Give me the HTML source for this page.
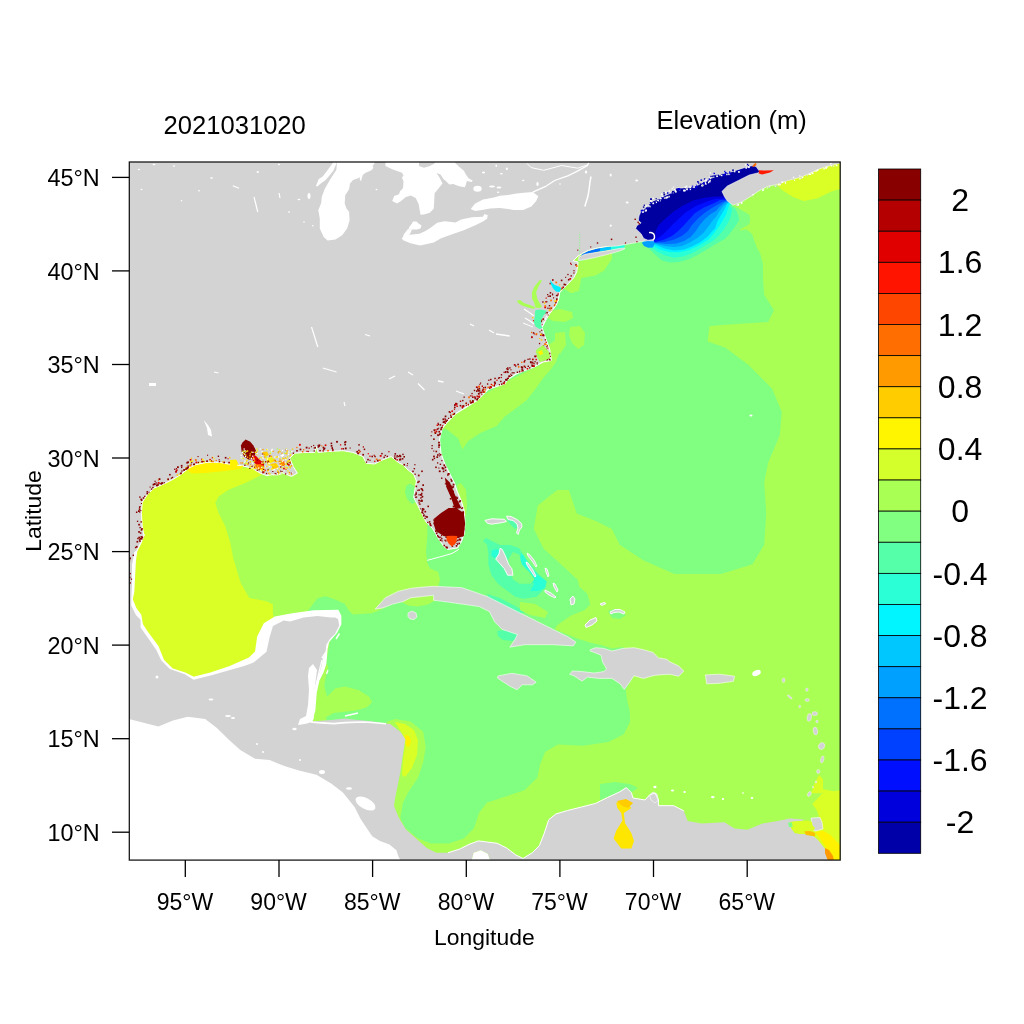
<!DOCTYPE html>
<html><head><meta charset="utf-8"><style>
html,body{margin:0;padding:0;background:#fff;}
svg{display:block;will-change:transform;}
text{font-family:"Liberation Sans",sans-serif;fill:#000;}
</style></head><body>
<svg width="1024" height="1024" viewBox="0 0 1024 1024">
<rect width="1024" height="1024" fill="#fff"/>
<defs><clipPath id="pc"><rect x="129.3" y="162" width="710.9" height="698.1"/></clipPath></defs>
<g clip-path="url(#pc)">
<rect x="129" y="161" width="712" height="700" fill="#aaff55"/>
<polygon fill="#d9ff26" points="129.0,470.0 255.0,468.0 261.8,474.8 245.2,483.1 228.6,489.7 218.6,496.4 215.3,503.0 218.6,513.0 225.3,526.2 230.3,542.8 233.6,560.0 234.3,561.5 240.7,583.0 249.3,598.0 266.5,601.2 272.9,604.5 272.9,613.0 275.0,625.0 270.0,660.0 200.0,690.0 129.0,700.0"/>
<polygon fill="#fff200" points="188.0,468.0 195.0,464.5 210.0,462.0 230.0,463.0 245.0,466.0 240.0,469.0 225.0,471.0 205.0,473.0 192.0,473.5 188.0,471.0"/>
<polygon fill="#80ff80" points="612.0,250.0 612.0,240.0 650.0,228.0 700.0,200.0 731.0,204.0 735.5,206.7 740.4,209.6 749.2,214.5 750.2,219.4 749.2,224.3 740.4,229.2 739.4,230.5 746.7,229.5 752.1,234.1 754.1,240.0 757.0,248.0 760.0,253.0 763.0,264.0 763.0,278.0 764.2,294.7 774.0,310.3 768.1,322.0 736.9,324.0 709.5,325.9 707.6,341.6 725.2,347.4 748.6,365.0 772.0,388.4 781.8,411.9 779.8,435.3 768.1,462.7 764.2,482.2 766.2,513.4 764.2,544.7 752.5,564.2 721.2,574.0 674.4,574.0 643.1,560.3 619.7,544.7 611.9,529.0 596.3,521.3 576.7,513.4 568.9,490.0 557.2,490.0 537.7,505.6 533.8,529.0 543.5,548.6 565.0,568.0 577.9,580.0 579.2,586.8 587.4,593.7 590.2,604.6 584.7,610.1 571.0,615.5 557.3,625.1 554.6,629.2 564.2,633.3 577.9,638.8 591.5,642.9 601.1,644.9 612.0,648.4 623.0,647.0 635.0,660.0 633.9,675.7 625.7,689.4 627.1,700.3 629.8,711.3 630.1,721.6 623.8,734.3 608.5,741.9 583.1,745.7 557.8,744.4 545.1,752.0 540.0,764.7 537.4,777.4 524.7,790.1 501.9,797.8 486.7,802.8 479.0,813.0 474.0,828.2 463.8,838.4 448.6,843.5 430.8,843.5 418.1,838.4 405.4,828.2 400.3,818.1 402.9,802.8 407.9,792.7 418.1,777.4 423.2,762.2 425.7,747.0 423.2,731.7 410.5,721.6 395.2,719.0 387.6,721.6 380.0,730.0 330.0,730.0 320.0,700.0 330.0,640.0 300.0,625.0 307.8,611.0 317.4,598.2 325.6,596.2 335.1,599.6 344.7,603.7 348.8,610.5 352.9,614.6 372.1,613.3 378.9,610.5 400.0,600.0 438.0,587.0 440.1,579.5 438.1,571.7 430.0,568.5 427.3,563.0 426.0,552.1 427.3,535.7 427.3,524.8 426.0,522.0 445.0,510.0 450.0,500.0 445.0,480.0 435.0,460.0 432.0,440.0 440.0,420.0 480.0,390.0 545.0,358.0 540.0,330.0 555.0,295.0 575.0,262.0"/>
<polygon fill="#aaff55" points="446.0,428.9 451.4,433.0 458.3,438.4 462.4,449.4 467.9,441.2 480.2,433.0 496.6,426.1 504.8,416.6 515.7,408.4 526.6,400.2 536.2,387.9 543.0,378.3 551.3,368.7 556.0,362.0 560.0,350.0 556.0,340.0 548.0,345.0 540.0,365.0 500.0,385.0 460.0,410.0 440.0,430.0"/>
<polygon fill="#aaff55" points="612.0,252.0 611.9,259.0 607.0,266.0 604.3,270.5 595.4,275.5 581.4,278.1 580.0,285.0 578.9,290.8 571.2,293.3 563.6,288.2 570.0,282.0 576.0,272.0 578.0,262.0"/>
<polygon fill="#aaff55" points="548.0,312.0 560.0,309.0 572.0,312.0 573.0,318.0 565.0,322.0 553.0,321.0 548.0,318.0"/>
<polygon fill="#aaff55" points="555.0,333.0 565.0,332.0 566.0,345.0 560.0,354.0 555.0,350.0"/>
<polygon fill="#aaff55" points="570.0,327.0 580.0,326.0 585.0,333.0 584.0,345.0 578.0,349.0 572.0,343.0 569.0,335.0"/>
<polygon fill="#aaff55" points="457.0,485.0 461.0,483.0 466.0,490.0 467.0,505.0 466.0,516.0 463.0,516.0 461.0,505.0 458.0,492.0"/>
<polygon fill="#80ff80" points="406.0,486.0 410.0,483.5 414.0,486.0 415.0,495.0 416.0,502.0 412.0,504.0 407.0,499.0 405.0,492.0"/>
<polygon fill="#aaff55" points="322.8,658.4 328.3,666.6 326.0,676.0 324.2,685.8 327.0,696.7 335.1,688.5 344.7,686.4 358.4,689.9 369.3,696.7 372.1,702.2 366.6,707.6 355.7,710.4 344.7,711.7 333.8,713.1 328.3,716.0 320.0,721.0 311.9,722.0 310.0,700.0 315.0,680.0"/>
<polygon fill="#d9ff26" points="395.0,722.0 405.0,724.0 414.0,730.0 418.0,740.0 417.0,755.0 412.0,768.0 405.0,777.0 402.0,775.0 403.0,760.0 405.0,745.0 403.0,735.0 398.0,727.0"/>
<polygon fill="#fff200" points="405.0,735.0 409.0,736.0 411.0,741.0 409.0,747.0 406.0,746.0"/>
<polygon fill="#d9ff26" points="776.6,184.6 782.0,190.1 793.0,196.9 803.9,201.0 817.6,198.3 831.3,191.4 841.0,188.7 841.0,160.0 776.0,160.0"/>
<polygon fill="#d9ff26" points="819.1,774.7 823.0,779.5 823.0,789.3 833.7,791.3 841.0,790.0 841.0,861.0 815.0,861.0 812.0,830.0 819.1,817.7 817.1,810.8 812.2,804.0 823.0,792.5 821.0,793.2 811.3,793.2 814.2,784.4"/>
<polygon fill="#80ff80" points="600.0,784.0 615.0,782.0 630.0,784.0 638.0,788.0 632.0,792.0 620.0,792.0 610.0,796.0 600.0,800.0"/>
<polygon fill="#80ff80" points="608.0,611.0 614.0,609.0 622.0,610.0 626.0,615.0 620.0,619.0 612.0,618.0"/>
<polygon fill="#55ffaa" points="497.0,631.0 505.0,630.0 515.0,633.0 520.0,638.0 512.0,641.0 503.0,640.0 498.0,636.0"/>
<polygon fill="#aaff55" points="403.0,598.0 420.0,596.0 434.0,595.5 435.0,600.5 428.0,604.5 418.0,606.6 408.0,605.5 402.0,602.0"/>
<polygon fill="#55ffaa" points="487.0,594.0 500.0,598.0 517.0,607.0 525.0,612.0 520.0,614.0 505.0,608.0 490.0,600.0"/>
<polygon fill="#aaff55" points="520.0,602.0 535.0,604.0 548.0,612.0 545.0,618.0 530.0,615.0 520.0,610.0"/>
<polygon fill="#55ffaa" points="482.9,540.8 487.2,545.1 488.3,553.7 488.3,564.5 491.5,575.2 497.9,583.8 506.5,590.2 515.1,596.7 523.7,598.8 536.6,596.7 545.2,588.1 547.3,581.6 539.8,575.2 532.3,566.6 526.9,560.2 522.6,553.7 519.0,548.0 510.0,545.0 500.0,545.0 492.0,541.0 486.0,538.0"/>
<polygon fill="#2affd5" points="521.0,553.0 524.0,556.0 530.0,566.0 538.0,575.0 546.0,581.0 545.2,588.1 538.0,591.0 530.0,591.0 534.0,584.0 530.0,576.0 524.0,568.0 520.0,560.0"/>
<polygon fill="#2affd5" points="491.5,550.5 497.0,549.0 500.0,551.0 499.0,556.0 495.0,558.0 491.5,556.0"/>
<polygon fill="#80ff80" points="513.0,552.0 519.4,554.8 521.6,564.5 530.2,573.0 534.5,579.5 530.2,583.8 519.4,583.8 513.0,579.5 510.0,570.0 508.0,560.0"/>
<polygon fill="#55ffaa" points="507.6,517.2 512.0,517.5 517.0,521.0 518.0,527.0 515.0,529.0 510.0,524.0 507.0,520.0"/>
<polygon fill="#55ffaa" points="648.9,248.4 654.8,254.3 661.6,260.2 669.4,262.6 679.2,262.1 689.0,259.2 698.7,254.3 708.5,248.4 718.2,242.6 724.8,239.0 729.6,234.1 733.0,229.2 736.0,225.3 738.9,220.4 738.4,215.5 735.5,208.7 731.6,206.2 733.0,200.0 761.0,176.0 761.0,164.0 745.0,164.0 700.0,172.0 630.0,205.0 630.0,237.0 645.0,241.0"/>
<polygon fill="#2affd5" points="650.9,247.5 656.7,251.4 664.5,255.3 674.3,257.7 684.1,256.3 693.8,252.3 703.6,246.5 713.4,240.6 718.9,235.5 723.8,229.2 727.2,224.3 729.6,219.4 731.1,214.5 732.1,209.6 730.1,205.7 733.0,200.0 761.0,176.0 761.0,164.0 745.0,164.0 700.0,172.0 630.0,205.0 630.0,237.0 645.0,241.0"/>
<polygon fill="#00f5ff" points="652.8,245.5 659.6,249.4 669.4,251.9 679.2,252.3 689.0,249.9 698.7,245.5 708.5,239.6 715.0,232.1 719.9,225.3 723.3,219.4 726.2,214.5 727.7,209.6 729.2,204.8 733.0,200.0 761.0,176.0 761.0,164.0 745.0,164.0 700.0,172.0 630.0,205.0 630.0,237.0 645.0,241.0"/>
<polygon fill="#00c8ff" points="654.8,244.5 664.5,248.4 674.3,250.4 684.1,249.4 691.9,246.5 699.7,242.6 707.5,236.7 712.0,231.5 715.3,228.0 717.0,222.3 719.9,217.0 722.3,213.1 724.8,208.7 727.2,203.8 733.0,200.0 761.0,176.0 761.0,164.0 745.0,164.0 700.0,172.0 630.0,205.0 630.0,237.0 645.0,241.0"/>
<polygon fill="#00a0ff" points="654.8,243.6 664.5,246.0 674.3,247.0 682.1,246.0 689.9,242.6 697.7,237.7 703.6,232.8 709.5,225.0 713.0,220.0 716.0,217.0 718.9,212.1 722.3,207.2 726.2,203.3 733.0,200.0 761.0,176.0 761.0,164.0 745.0,164.0 700.0,172.0 630.0,205.0 630.0,237.0 645.0,241.0"/>
<polygon fill="#0070ff" points="654.8,243.1 666.5,244.0 676.3,243.6 684.1,241.1 690.9,236.7 695.8,230.9 699.7,225.0 705.0,219.0 710.0,214.5 716.5,210.6 719.9,206.2 724.8,202.3 726.0,202.0 733.0,200.0 761.0,176.0 761.0,164.0 745.0,164.0 700.0,172.0 630.0,205.0 630.0,237.0 645.0,241.0"/>
<polygon fill="#0040ff" points="655.7,242.6 664.5,242.1 674.3,239.6 682.1,235.7 688.0,230.9 691.9,225.0 698.0,218.5 704.4,213.0 711.0,208.5 717.4,204.8 722.3,202.0 725.5,201.0 733.0,200.0 761.0,176.0 761.0,164.0 745.0,164.0 700.0,172.0 630.0,205.0 630.0,237.0 645.0,241.0"/>
<polygon fill="#0010ff" points="655.7,242.1 664.5,239.6 672.3,235.7 678.2,230.9 684.1,225.0 690.0,218.5 695.0,213.0 704.0,207.5 715.0,202.8 719.9,200.0 725.0,199.8 733.0,200.0 761.0,176.0 761.0,164.0 745.0,164.0 700.0,172.0 630.0,205.0 630.0,237.0 645.0,241.0"/>
<polygon fill="#0000dd" points="654.8,240.6 661.6,235.7 667.5,229.9 672.3,225.0 679.0,218.5 685.6,212.5 696.0,206.0 707.0,201.5 715.0,199.0 724.5,198.5 733.0,200.0 761.0,176.0 761.0,164.0 745.0,164.0 700.0,172.0 630.0,205.0 630.0,237.0 645.0,241.0"/>
<polygon fill="#0000a0" points="654.8,239.6 655.7,230.9 658.7,225.0 665.0,219.0 673.0,212.0 683.0,205.5 693.0,200.5 706.0,197.5 716.0,196.5 724.3,196.5 733.0,200.0 761.0,176.0 761.0,164.0 745.0,164.0 700.0,172.0 630.0,205.0 630.0,237.0 645.0,241.0"/>
<polygon fill="#00a0ff" points="643.0,241.5 650.0,240.5 654.0,241.0 654.5,244.0 653.0,247.5 648.0,247.8 644.0,246.0 642.0,243.0"/>
<polygon fill="#0070ff" points="582.6,253.8 588.4,251.0 597.2,248.6 607.0,247.0 607.0,250.2 597.2,252.0 584.5,254.8 580.0,257.0"/>
<polygon fill="#00c8ff" points="600.0,248.2 607.0,247.0 612.0,246.5 612.0,249.8 607.0,250.3 600.0,251.4"/>
<polygon fill="#25ffe0" points="611.0,246.5 620.0,245.5 625.0,245.0 624.0,248.0 619.7,248.4 611.0,249.9"/>
<polygon fill="#ffffff" points="143.8,535.3 140.6,543.1 136.7,550.9 135.2,560.3 134.4,575.9 133.6,591.6 132.0,599.4 135.9,608.8 140.6,615.0 142.2,624.4 148.4,633.8 157.8,646.3 163.4,660.3 172.0,668.9 184.9,673.2 193.5,677.5 210.6,673.2 230.0,666.8 249.3,658.2 255.8,651.7 257.9,636.7 264.4,623.8 275.1,617.3 292.3,614.1 313.8,610.9 337.9,610.5 340.6,616.0 340.6,624.2 336.5,632.4 328.3,642.0 326.9,648.8 325.6,663.9 322.8,672.1 318.7,680.3 316.0,692.6 314.6,710.4 311.9,720.0 300.0,730.0 129.0,730.0 129.0,540.0" stroke="#fff" stroke-width="1.5"/>
<polygon fill="#ffffff" points="129.0,719.1 140.7,722.0 158.3,726.4 173.0,720.6 187.6,716.8 205.2,719.1 216.9,727.9 228.6,739.6 240.3,749.9 255.0,758.7 269.6,760.1 284.3,766.0 298.9,770.4 316.5,774.8 331.2,783.6 342.9,792.4 354.6,807.0 360.5,818.7 366.3,827.5 372.2,836.3 380.0,841.0 389.4,844.4 396.4,850.3 398.7,857.3 401.0,861.0 129.0,861.0" stroke="#fff" stroke-width="3"/>
<polygon fill="#d3d3d3" points="129.0,161.0 841.0,161.0 841.0,163.4 836.7,164.1 825.8,166.8 817.6,169.6 809.4,173.7 798.4,177.8 787.5,180.5 776.6,184.6 768.4,186.0 760.2,190.1 752.0,195.5 741.0,202.4 732.8,205.1 727.3,201.0 724.6,196.9 721.9,191.4 727.3,186.0 738.3,180.5 749.2,175.0 757.4,173.0 760.0,172.0 756.0,166.5 753.0,165.5 749.7,166.3 746.6,167.0 738.8,169.4 729.4,172.5 720.0,174.1 710.6,175.6 707.5,180.3 698.1,185.0 687.2,188.1 676.3,188.1 671.6,192.8 660.6,197.5 651.3,202.2 645.0,208.4 640.3,213.1 639.0,216.0 638.4,220.2 641.1,222.9 637.0,225.6 635.6,228.4 641.1,233.8 643.8,238.6 648.0,240.2 652.9,239.6 653.5,240.8 648.0,240.6 641.2,241.6 633.4,243.1 625.5,244.5 616.8,246.0 607.0,246.5 597.2,248.0 588.4,250.4 582.6,253.3 578.0,256.0 575.0,259.0 572.8,261.1 574.0,261.0 578.0,262.0 577.7,266.0 576.7,271.9 573.8,277.7 568.7,283.2 563.6,288.2 559.2,293.3 558.6,299.7 554.7,307.3 549.7,313.6 545.9,320.0 542.0,327.6 545.9,339.0 549.7,349.2 550.9,356.8 551.3,360.5 543.0,361.9 533.5,367.3 523.9,370.8 515.7,374.2 507.5,379.6 504.8,383.8 496.6,386.5 488.4,389.2 482.9,394.7 477.4,400.2 466.5,407.0 455.5,413.8 447.3,422.0 441.9,428.9 439.8,438.4 439.6,440.0 441.0,453.7 445.1,464.6 450.6,475.5 454.7,483.8 457.4,492.0 461.5,501.5 464.3,511.1 464.9,522.0 464.3,533.0 461.5,541.2 457.4,548.0 447.9,549.4 443.8,546.6 438.3,538.4 432.8,528.9 426.0,522.0 421.9,513.8 417.8,505.6 413.7,497.4 415.0,489.2 416.4,481.0 413.7,474.2 408.2,470.1 402.7,464.6 399.4,463.2 391.1,456.5 382.8,459.8 374.5,464.0 366.2,463.2 362.9,456.5 352.9,452.4 343.0,450.7 328.0,451.5 318.0,452.4 316.4,446.6 314.7,452.4 304.8,452.4 294.8,453.2 289.8,458.2 293.2,466.5 297.3,473.1 291.5,476.4 283.2,473.1 278.4,474.8 271.6,474.8 266.8,475.6 260.1,473.1 251.8,468.1 241.9,465.7 228.6,464.0 218.6,462.3 207.0,462.3 195.4,464.8 188.8,468.1 180.5,474.8 172.2,479.8 162.2,484.7 153.9,488.1 147.3,494.7 142.2,502.5 141.4,513.4 142.2,525.9 143.8,535.3 140.6,543.1 136.7,550.9 134.4,552.5 132.0,565.0 132.0,583.8 131.3,599.4 131.3,605.6 135.9,615.0 140.6,619.7 140.6,627.5 148.4,638.4 156.3,650.0 161.2,660.3 169.8,668.9 184.9,674.3 193.5,679.7 210.6,675.4 230.0,670.0 245.0,665.7 253.6,662.5 266.5,651.7 269.7,636.7 273.0,625.9 283.7,620.6 290.0,621.5 303.7,617.4 317.4,616.0 331.0,617.4 335.1,617.4 338.0,619.0 339.2,625.6 335.1,633.8 329.7,639.2 326.3,644.7 325.6,651.6 322.8,658.4 321.5,666.6 318.7,674.8 316.0,683.0 313.9,691.2 311.9,699.4 311.2,710.4 311.9,715.9 303.7,721.3 314.6,721.3 331.0,720.0 344.7,718.6 358.4,720.0 372.1,721.3 380.0,722.8 390.2,724.1 400.3,731.7 405.4,739.3 402.9,754.6 400.3,772.4 397.8,785.0 395.2,797.8 394.0,805.8 398.7,817.5 405.8,829.2 417.5,839.8 426.9,848.0 436.2,852.7 448.0,852.7 459.7,849.1 469.0,844.4 478.4,840.9 487.8,842.1 497.2,843.3 506.6,848.0 515.9,855.0 523.0,858.5 532.3,852.7 539.4,845.6 544.0,833.9 548.7,819.8 555.8,814.0 567.5,810.5 581.5,807.0 595.6,803.4 607.3,797.6 620.0,791.7 626.3,787.6 631.4,792.7 633.0,798.0 645.0,800.0 649.5,795.0 655.0,793.0 658.4,800.0 658.4,805.7 673.7,805.7 683.8,810.8 687.6,821.0 701.6,823.5 724.4,822.2 734.6,828.6 747.3,829.8 762.5,823.5 777.8,821.0 789.8,818.6 804.4,819.6 800.0,822.0 792.0,822.0 790.0,826.0 794.7,833.3 804.4,834.0 814.0,836.5 818.0,840.0 822.0,845.0 826.0,850.0 831.0,858.0 833.0,861.0 841.0,861.0 841.0,861.0 490.2,861.0 487.8,853.8 480.8,850.3 473.7,852.7 471.4,861.0 401.0,861.0 398.7,857.3 396.4,850.3 389.4,844.4 380.0,841.0 372.2,836.3 366.3,827.5 360.5,818.7 354.6,807.0 342.9,792.4 331.2,783.6 316.5,774.8 298.9,770.4 284.3,766.0 269.6,760.1 255.0,758.7 240.3,749.9 228.6,739.6 216.9,727.9 205.2,719.1 187.6,716.8 173.0,720.6 158.3,726.4 140.7,722.0 129.0,719.1"/>
<polygon fill="#ffffff" points="471.4,861.0 473.7,852.7 480.8,850.3 487.8,853.8 490.2,861.0"/>
<polygon fill="#d3d3d3" points="578.7,257.2 584.5,254.3 597.2,252.3 609.0,250.4 619.7,248.4 624.6,248.0 624.6,248.9 619.7,250.9 611.9,253.3 604.1,255.3 594.3,257.7 584.5,259.7 578.7,260.6" stroke="#fff" stroke-width="0.7" stroke-opacity="0.8"/>
<polygon fill="#d3d3d3" points="375.2,609.1 385.4,597.7 398.1,591.4 410.8,588.3 426.0,586.8 433.6,586.3 461.6,587.6 487.0,596.4 502.2,604.0 517.5,611.7 537.8,621.8 553.0,629.4 568.3,637.0 575.9,642.1 573.3,645.9 553.0,644.7 525.0,644.7 509.8,647.2 514.9,639.6 517.5,634.5 502.2,629.4 494.6,621.8 489.5,611.7 479.3,606.6 461.6,604.0 443.8,601.5 433.6,600.3 433.6,595.2 423.5,596.4 410.8,597.7 403.2,601.5 393.0,604.0 382.9,607.9" stroke="#fff" stroke-width="0.7" stroke-opacity="0.8"/>
<polygon fill="#d3d3d3" points="408.0,613.0 412.0,611.0 416.0,613.0 417.0,617.0 414.0,619.5 410.0,619.0 408.0,616.5" stroke="#fff" stroke-width="0.7" stroke-opacity="0.8"/>
<polygon fill="#d3d3d3" points="590.2,649.7 595.6,647.7 603.8,648.4 612.0,651.1 623.0,648.4 633.9,647.7 643.5,649.7 653.0,652.5 658.5,657.9 666.7,659.3 670.0,662.0 678.7,666.0 683.8,671.1 678.7,676.2 670.0,674.3 658.4,674.9 653.0,675.7 643.5,678.4 633.9,675.7 628.4,683.9 624.3,689.4 620.2,683.9 612.0,678.4 598.4,678.4 587.4,677.1 582.0,681.2 573.8,675.7 569.7,674.3 572.4,670.9 582.0,671.6 594.3,673.0 603.8,671.6 606.6,668.9 602.5,662.0 601.1,655.2 594.3,652.5 590.2,651.1" stroke="#fff" stroke-width="0.7" stroke-opacity="0.8"/>
<polygon fill="#d3d3d3" points="498.1,675.9 512.0,673.3 527.3,675.9 536.2,682.2 532.4,684.8 522.2,684.8 517.1,689.8 509.5,686.0 501.9,681.0 497.3,677.9" stroke="#fff" stroke-width="0.7" stroke-opacity="0.8"/>
<polygon fill="#d3d3d3" points="705.4,674.9 719.4,674.2 734.6,676.2 733.3,681.3 719.4,683.3 706.7,683.8" stroke="#fff" stroke-width="0.7" stroke-opacity="0.8"/>
<polygon fill="#d3d3d3" points="585.0,625.0 590.0,620.0 596.0,617.5 597.0,621.0 592.0,625.0 586.0,627.5" stroke="#fff" stroke-width="0.9"/>
<polygon fill="#d3d3d3" points="500.1,548.3 502.2,549.4 505.4,555.9 508.7,564.5 511.9,568.8 513.0,575.2 507.6,575.2 504.4,568.8 495.8,559.1 499.0,553.7" stroke="#fff" stroke-width="0.9"/>
<polygon fill="#d3d3d3" points="485.0,520.4 491.5,518.8 504.4,519.3 506.5,521.5 502.2,522.6 491.5,524.2 487.2,523.1" stroke="#fff" stroke-width="0.9"/>
<polygon fill="#d3d3d3" points="506.5,516.1 511.0,516.5 517.0,519.5 521.6,523.6 522.0,527.0 519.5,530.0 518.3,534.4 516.5,533.0 518.0,528.0 517.0,524.0 513.0,520.5 508.0,519.5" stroke="#fff" stroke-width="0.9"/>
<polygon fill="#d3d3d3" points="610.0,612.0 615.0,609.5 620.0,609.5 625.0,612.0 624.0,614.0 619.0,612.0 614.0,612.5 611.0,614.0" stroke="#fff" stroke-width="0.9"/>
<polygon fill="#d3d3d3" points="600.0,604.0 604.0,602.5 606.0,603.5 602.0,605.5" stroke="#fff" stroke-width="0.9"/>
<polygon fill="#d3d3d3" points="570.0,599.0 573.0,596.0 575.0,599.0 574.0,604.0 571.0,605.0" stroke="#fff" stroke-width="0.9"/>
<polygon fill="#d3d3d3" points="553.0,583.0 555.0,584.0 558.0,590.0 557.0,592.0 554.0,587.0" stroke="#fff" stroke-width="0.9"/>
<polygon fill="#d3d3d3" points="545.0,568.0 547.0,569.0 549.0,575.0 548.0,577.0 546.0,572.0" stroke="#fff" stroke-width="0.9"/>
<polygon fill="#d3d3d3" points="527.0,553.0 530.0,555.0 534.0,560.0 537.0,566.0 536.0,567.0 532.0,561.0 528.0,556.0" stroke="#fff" stroke-width="0.9"/>
<polygon fill="#d3d3d3" points="526.0,562.0 528.0,563.0 533.0,570.0 536.0,576.0 535.0,577.0 531.0,571.0 527.0,565.0" stroke="#fff" stroke-width="0.9"/>
<polygon fill="#d3d3d3" points="545.0,590.0 551.0,593.0 556.0,597.0 555.0,598.0 549.0,595.0 545.0,592.0" stroke="#fff" stroke-width="0.9"/>
<polygon fill="#d3d3d3" points="811.0,818.0 820.0,817.5 822.0,822.0 823.0,829.0 816.0,831.0 811.0,830.0 812.0,824.0" stroke="#fff" stroke-width="0.7" stroke-opacity="0.8"/>
<polygon fill="#d3d3d3" points="649.5,795.0 653.0,792.0 657.0,794.0 658.4,800.0 655.0,803.0 651.0,800.0" stroke="#fff" stroke-width="0.7" stroke-opacity="0.8"/>
<ellipse cx="783.6" cy="680.2" rx="1.4" ry="2.2" transform="rotate(0 783.6 680.2)" fill="#d3d3d3" stroke="#fff" stroke-width="0.35"/>
<ellipse cx="789.8" cy="697" rx="3" ry="0.9" transform="rotate(40 789.8 697)" fill="#d3d3d3" stroke="#fff" stroke-width="0.35"/>
<ellipse cx="806.9" cy="689.7" rx="1.3" ry="1.6" transform="rotate(0 806.9 689.7)" fill="#d3d3d3" stroke="#fff" stroke-width="0.35"/>
<ellipse cx="807.2" cy="700" rx="2.2" ry="1.5" transform="rotate(0 807.2 700)" fill="#d3d3d3" stroke="#fff" stroke-width="0.35"/>
<ellipse cx="799.7" cy="706.5" rx="0.9" ry="1.3" transform="rotate(0 799.7 706.5)" fill="#d3d3d3" stroke="#fff" stroke-width="0.35"/>
<ellipse cx="809.3" cy="717.4" rx="2.2" ry="4" transform="rotate(10 809.3 717.4)" fill="#d3d3d3" stroke="#fff" stroke-width="0.35"/>
<ellipse cx="814.8" cy="713.6" rx="2.8" ry="2" transform="rotate(0 814.8 713.6)" fill="#d3d3d3" stroke="#fff" stroke-width="0.35"/>
<ellipse cx="817" cy="721.5" rx="1.2" ry="1.2" transform="rotate(0 817 721.5)" fill="#d3d3d3" stroke="#fff" stroke-width="0.35"/>
<ellipse cx="815.4" cy="731" rx="2.2" ry="4" transform="rotate(-10 815.4 731)" fill="#d3d3d3" stroke="#fff" stroke-width="0.35"/>
<ellipse cx="821.6" cy="746" rx="3" ry="3.6" transform="rotate(35 821.6 746)" fill="#d3d3d3" stroke="#fff" stroke-width="0.35"/>
<ellipse cx="822.3" cy="759.4" rx="1.6" ry="3.6" transform="rotate(15 822.3 759.4)" fill="#d3d3d3" stroke="#fff" stroke-width="0.35"/>
<ellipse cx="818.2" cy="771.5" rx="1.6" ry="2" transform="rotate(0 818.2 771.5)" fill="#d3d3d3" stroke="#fff" stroke-width="0.35"/>
<ellipse cx="809.3" cy="794" rx="1.6" ry="2.6" transform="rotate(30 809.3 794)" fill="#d3d3d3" stroke="#fff" stroke-width="0.35"/>
<ellipse cx="816" cy="782" rx="0.7" ry="1.2" transform="rotate(0 816 782)" fill="#d3d3d3" stroke="#fff" stroke-width="0.35"/>
<ellipse cx="813" cy="787" rx="0.6" ry="1" transform="rotate(0 813 787)" fill="#d3d3d3" stroke="#fff" stroke-width="0.35"/>
<polygon fill="#ffffff" points="315.9,185.9 318.8,179.0 322.7,176.6 325.6,172.7 332.5,163.4 332.5,161.0 337.0,161.0 336.4,163.4 333.4,170.7 329.5,175.6 325.6,180.0 320.7,183.4 317.3,186.4"/>
<polygon fill="#ffffff" points="337.0,161.0 336.4,169.8 329.5,180.5 324.6,189.3 321.7,197.1 321.2,203.0 318.3,210.3 319.8,218.6 319.8,228.4 323.7,237.1 327.6,240.6 335.4,239.6 342.2,235.2 347.1,228.4 349.6,220.5 349.1,211.8 346.6,208.8 344.7,203.5 345.2,195.2 349.1,189.3 350.0,183.4 353.0,180.0 358.8,178.1 361.8,175.6 365.7,172.7 371.5,170.3 373.5,167.8 372.5,165.9 374.5,163.4 374.6,161.0"/>
<polygon fill="#ffffff" points="385.4,161.0 385.4,165.9 392.2,169.3 402.0,172.7 403.5,175.6 402.0,177.6 403.5,181.5 403.0,188.3 400.0,191.3 399.0,194.2 394.2,196.1 392.2,201.0 397.1,203.5 401.0,201.0 405.9,197.1 410.8,195.6 415.7,198.1 418.6,204.0 420.5,214.7 423.9,214.6 429.8,212.7 433.7,208.8 434.2,202.0 434.6,193.2 439.5,187.3 442.5,183.4 439.5,177.5 436.6,173.1 440.5,174.6 443.4,179.0 446.4,181.4 449.3,184.4 453.2,183.9 459.1,186.3 464.9,187.3 465.9,184.4 466.9,181.0 471.8,181.9 472.7,180.5 468.8,178.5 465.9,174.6 463.9,170.7 459.1,166.8 455.2,162.9 455.2,161.0"/>
<ellipse cx="477.5" cy="188.8" rx="4.2" ry="3" fill="#fff"/>
<polygon fill="#d3d3d3" points="419.0,161.0 434.6,161.0 434.6,163.5 430.0,166.0 424.0,167.8 419.0,166.0"/>
<polygon fill="#ffffff" points="408.5,228.3 410.0,226.0 412.0,223.5 413.0,221.5 416.5,221.5 418.5,223.5 421.5,225.5 420.5,228.5 417.0,229.5 410.0,229.5"/>
<polygon fill="#ffffff" points="401.6,238.5 407.8,235.1 419.4,233.8 425.5,231.0 431.0,227.6 437.2,222.8 444.7,221.2 455.6,222.5 461.1,219.4 472.0,217.3 483.0,216.7 484.3,213.9 487.8,215.3 487.1,218.7 483.0,221.4 474.8,225.5 463.8,230.3 451.5,234.4 440.6,238.5 433.8,242.6 420.1,245.4 410.5,243.3 403.7,240.6"/>
<polygon fill="#ffffff" points="470.7,209.1 474.8,203.7 483.0,199.6 493.9,197.5 500.0,195.8 508.2,194.9 516.4,193.5 523.9,192.8 532.8,192.1 538.3,196.2 536.2,201.0 531.4,206.5 523.2,209.9 513.7,209.9 500.0,207.9 490.0,208.5 482.0,210.0 475.0,211.0"/>
<polyline fill="none" stroke="#fff" stroke-width="1.3" points="532.8,192.1 545.1,186.7 554.7,180.5 568.4,175.7 577.9,170.9 587.5,165.5 588.9,162"/>
<polyline fill="none" stroke="#fff" stroke-width="1" points="527,163.5 531,167.5 543.7,170.3 561.5,165.5 577.9,168.2 587.5,164.8"/>
<polyline fill="none" stroke="#fff" stroke-width="1.5" points="591,176.5 590,182 589,190 588,196 584.8,206.5"/>
<line x1="336" y1="639" x2="339.5" y2="633.5" stroke="#fff" stroke-width="1.4"/>
<line x1="322" y1="658" x2="326" y2="652" stroke="#fff" stroke-width="1.4"/>
<line x1="326.5" y1="674" x2="328" y2="670" stroke="#fff" stroke-width="1.4"/>
<line x1="345" y1="716" x2="358" y2="713" stroke="#fff" stroke-width="1.4"/>
<polyline fill="none" stroke="#fff" stroke-width="1.6" points="311,722 318,722.6 334,723.6 345,722.6 363,722 372,722.5 380,723.2 386,723.8"/>
<polyline fill="none" stroke="#fff" stroke-width="1.2" points="322,660 319,672 316.5,683 314.5,692 312.5,700 312,710 311.5,718"/>
<ellipse cx="157" cy="677" rx="1.5" ry="1.5" fill="#fff"/>
<ellipse cx="211" cy="699.5" rx="2.5" ry="1" fill="#fff"/>
<ellipse cx="228" cy="716" rx="3" ry="1" fill="#fff"/>
<ellipse cx="233" cy="718" rx="2" ry="1" fill="#fff"/>
<ellipse cx="294.5" cy="729" rx="2.2" ry="1.2" fill="#fff"/>
<ellipse cx="257" cy="744" rx="1" ry="1" fill="#fff"/>
<ellipse cx="322" cy="772" rx="3" ry="2" fill="#fff"/>
<ellipse cx="349" cy="788.5" rx="3" ry="1.3" fill="#fff"/>
<ellipse cx="263" cy="752" rx="1" ry="1" fill="#fff"/>
<ellipse cx="300" cy="760" rx="1" ry="1" fill="#fff"/>
<ellipse cx="756.5" cy="673" rx="4.5" ry="2.8" fill="#fff" transform="rotate(-25 756.5 673)"/>
<line x1="579.6" y1="233.8" x2="579.6" y2="256" stroke="#80ff80" stroke-width="0.9" stroke-dasharray="1.2,1.6"/>
<ellipse cx="751" cy="415.5" rx="1.6" ry="0.9" fill="#fff"/>
<polygon fill="#ffffff" points="309.0,668.0 313.0,664.0 317.0,670.0 315.0,686.0 313.0,700.0 312.0,712.0 314.0,718.0 312.0,722.0 305.0,724.0 298.0,725.0 300.0,719.0 306.0,716.0 308.0,705.0 309.0,690.0 308.0,676.0"/>
<ellipse cx="655" cy="787" rx="1.6" ry="1.2" fill="#fff"/>
<ellipse cx="672.5" cy="790.5" rx="1.6" ry="1.0" fill="#fff"/>
<ellipse cx="684.6" cy="792" rx="1.3" ry="1.0" fill="#fff"/>
<ellipse cx="712.8" cy="797.2" rx="1.8" ry="1.1" fill="#fff"/>
<ellipse cx="723" cy="799" rx="1.2" ry="0.9" fill="#fff"/>
<ellipse cx="752" cy="798" rx="1.3" ry="0.9" fill="#fff"/>
<ellipse cx="743" cy="793" rx="1" ry="0.8" fill="#fff"/>
<polygon fill="#d9ff26" points="790.0,822.0 800.0,821.0 810.0,823.0 815.0,828.0 812.0,833.0 800.0,834.0 792.0,830.0"/>
<polygon fill="#ffffff" points="408.0,229.0 412.0,229.5 410.0,234.0 406.0,238.0 402.0,239.0 404.0,234.0"/>
<polygon fill="#ffffff" points="361.0,165.5 364.0,165.0 363.5,170.0 362.5,176.0 361.0,181.0 359.8,180.0 360.0,172.0"/>
<ellipse cx="139" cy="169.5" rx="1.2" ry="0.8" fill="#fff"/>
<ellipse cx="154" cy="164.5" rx="1.5" ry="0.7" fill="#fff"/>
<ellipse cx="174" cy="166" rx="1.2" ry="0.7" fill="#fff"/>
<ellipse cx="211.5" cy="178" rx="1.6" ry="0.8" fill="#fff"/>
<ellipse cx="257.8" cy="172" rx="1.2" ry="0.9" fill="#fff"/>
<ellipse cx="141.5" cy="189.5" rx="1" ry="0.8" fill="#fff"/>
<ellipse cx="181.5" cy="200.8" rx="0.8" ry="0.8" fill="#fff"/>
<ellipse cx="199" cy="190.8" rx="1" ry="0.7" fill="#fff"/>
<ellipse cx="279" cy="164.5" rx="1.2" ry="0.8" fill="#fff"/>
<ellipse cx="289" cy="212" rx="1" ry="0.7" fill="#fff"/>
<ellipse cx="299" cy="199.5" rx="1.5" ry="0.7" fill="#fff"/>
<ellipse cx="304" cy="222" rx="0.8" ry="0.8" fill="#fff"/>
<ellipse cx="312.8" cy="225.8" rx="0.8" ry="0.8" fill="#fff"/>
<ellipse cx="376.5" cy="189.5" rx="1" ry="0.8" fill="#fff"/>
<ellipse cx="501.4" cy="173.7" rx="1.5" ry="0.7" fill="#fff"/>
<ellipse cx="506.8" cy="168.9" rx="1" ry="0.7" fill="#fff"/>
<ellipse cx="523.2" cy="180.5" rx="1.2" ry="0.7" fill="#fff"/>
<ellipse cx="610.7" cy="175" rx="1" ry="1.6" fill="#fff"/>
<ellipse cx="627.2" cy="202.4" rx="1.5" ry="1" fill="#fff"/>
<ellipse cx="610.7" cy="225.6" rx="1" ry="1.2" fill="#fff"/>
<ellipse cx="636.7" cy="180.5" rx="1.5" ry="1" fill="#fff"/>
<ellipse cx="483.5" cy="172.6" rx="1.6" ry="1" fill="#fff"/>
<ellipse cx="492" cy="186.5" rx="3" ry="1" fill="#fff"/>
<ellipse cx="499" cy="187.5" rx="2.5" ry="0.9" fill="#fff"/>
<ellipse cx="498.1" cy="192.2" rx="1.2" ry="0.7" fill="#fff"/>
<ellipse cx="496.2" cy="165.8" rx="0.8" ry="1.2" fill="#fff"/>
<ellipse cx="506.9" cy="168.7" rx="1" ry="1.2" fill="#fff"/>
<ellipse cx="537.5" cy="184" rx="1.2" ry="2" fill="#fff"/>
<ellipse cx="586" cy="172" rx="1.2" ry="1.5" fill="#fff"/>
<ellipse cx="560" cy="184" rx="0.8" ry="0.8" fill="#fff"/>
<ellipse cx="365.5" cy="803.5" rx="11" ry="5.5" transform="rotate(28 365.5 803.5)" fill="#fff"/>
<path d="M649,232.6 Q653.5,232 654.4,235.7 Q655,239 652.9,239.8" fill="none" stroke="#fff" stroke-width="1.4"/>
<path d="M427.3,560.3 Q440,557 452,553.5 L458.8,549.4" fill="none" stroke="#fff" stroke-width="1"/>
<line x1="232.8" y1="185.8" x2="239" y2="188.3" stroke="#fff" stroke-width="1.2"/>
<line x1="254" y1="197" x2="257.8" y2="212" stroke="#fff" stroke-width="1.2"/>
<line x1="279" y1="193" x2="280" y2="198" stroke="#fff" stroke-width="1.2"/>
<line x1="311.5" y1="327" x2="317.8" y2="347" stroke="#fff" stroke-width="1.2"/>
<line x1="322.8" y1="368" x2="336.5" y2="372" stroke="#fff" stroke-width="1.2"/>
<line x1="214" y1="372" x2="218.5" y2="373" stroke="#fff" stroke-width="1.2"/>
<line x1="365" y1="334.5" x2="370" y2="336" stroke="#fff" stroke-width="1.2"/>
<line x1="344" y1="402" x2="345" y2="406" stroke="#fff" stroke-width="1.2"/>
<ellipse cx="309" cy="196" rx="1.5" ry="3" fill="#fff"/>
<line x1="489" y1="330" x2="494" y2="333" stroke="#fff" stroke-width="1.3"/>
<line x1="496" y1="334" x2="509.6" y2="336" stroke="#fff" stroke-width="1.3"/>
<line x1="408" y1="372" x2="413" y2="375" stroke="#fff" stroke-width="1.3"/>
<line x1="418" y1="383.5" x2="424.5" y2="390" stroke="#fff" stroke-width="1.3"/>
<line x1="438" y1="381" x2="443.5" y2="382" stroke="#fff" stroke-width="1.3"/>
<line x1="389" y1="379" x2="395" y2="376" stroke="#fff" stroke-width="1.3"/>
<line x1="456" y1="391" x2="464" y2="394" stroke="#fff" stroke-width="1.3"/>
<line x1="470" y1="324" x2="474" y2="326" stroke="#fff" stroke-width="1.3"/>
<rect x="149" y="383" width="7" height="3" fill="#fff"/>
<path d="M203.7,420 L208,425 L211,430 L212,436.6 L208,435 L207,428 Z" fill="#fff"/>
<polyline fill="none" stroke="#fff" stroke-width="1.0" stroke-opacity="1.0" stroke-linejoin="round" points="607.0,246.5 597.2,248.0 588.4,250.4 582.6,253.3 578.0,256.0 575.0,259.0 572.8,261.1 574.0,261.0 578.0,262.0 577.7,266.0 576.7,271.9 573.8,277.7 568.7,283.2 563.6,288.2 559.2,293.3 558.6,299.7 554.7,307.3 549.7,313.6 545.9,320.0 542.0,327.6 545.9,339.0 549.7,349.2 550.9,356.8 551.3,360.5"/>
<polyline fill="none" stroke="#fff" stroke-width="1.1" stroke-opacity="1.0" stroke-linejoin="round" points="551.3,360.5 543.0,361.9 533.5,367.3 523.9,370.8 515.7,374.2 507.5,379.6 504.8,383.8 496.6,386.5 488.4,389.2 482.9,394.7 477.4,400.2 466.5,407.0 455.5,413.8 447.3,422.0 441.9,428.9 439.8,438.4 439.6,440.0 441.0,453.7 445.1,464.6 450.6,475.5 454.7,483.8 457.4,492.0 461.5,501.5 464.3,511.1 464.9,522.0 464.3,533.0 461.5,541.2 457.4,548.0"/>
<polyline fill="none" stroke="#fff" stroke-width="1.0" stroke-opacity="1.0" stroke-linejoin="round" points="457.4,548.0 447.9,549.4 443.8,546.6 438.3,538.4 432.8,528.9 426.0,522.0 421.9,513.8 417.8,505.6 413.7,497.4 415.0,489.2 416.4,481.0 413.7,474.2 408.2,470.1 402.7,464.6 399.4,463.2 391.1,456.5 382.8,459.8 374.5,464.0 366.2,463.2 362.9,456.5 352.9,452.4 343.0,450.7 328.0,451.5 318.0,452.4 316.4,446.6 314.7,452.4 304.8,452.4 294.8,453.2 289.8,458.2 293.2,466.5 297.3,473.1 291.5,476.4 283.2,473.1 278.4,474.8 271.6,474.8 266.8,475.6 260.1,473.1 251.8,468.1 241.9,465.7 228.6,464.0 218.6,462.3 207.0,462.3 195.4,464.8 188.8,468.1 180.5,474.8 172.2,479.8 162.2,484.7 153.9,488.1 147.3,494.7 142.2,502.5 141.4,513.4 142.2,525.9 143.8,535.3 140.6,543.1 136.7,550.9 134.4,552.5"/>
<polyline fill="none" stroke="#fff" stroke-width="0.8" stroke-opacity="0.7" stroke-linejoin="round" points="639.0,216.0 638.4,220.2 641.1,222.9 637.0,225.6 635.6,228.4 641.1,233.8 643.8,238.6 648.0,240.2 652.9,239.6 653.5,240.8 648.0,240.6 641.2,241.6 633.4,243.1 625.5,244.5 616.8,246.0 607.0,246.5"/>
<polyline fill="none" stroke="#fff" stroke-width="0.9" stroke-opacity="0.6" stroke-linejoin="round" points="836.7,164.1 825.8,166.8 817.6,169.6 809.4,173.7 798.4,177.8 787.5,180.5 776.6,184.6 768.4,186.0 760.2,190.1 752.0,195.5 741.0,202.4 732.8,205.1 727.3,201.0 724.6,196.9 721.9,191.4 727.3,186.0 738.3,180.5 749.2,175.0 757.4,173.0 760.0,172.0 756.0,166.5 753.0,165.5 749.7,166.3 746.6,167.0 738.8,169.4 729.4,172.5 720.0,174.1 710.6,175.6 707.5,180.3 698.1,185.0 687.2,188.1 676.3,188.1 671.6,192.8 660.6,197.5 651.3,202.2 645.0,208.4 640.3,213.1 639.0,216.0"/>
<polyline fill="none" stroke="#fff" stroke-width="1.0" stroke-opacity="1.0" stroke-linejoin="round" points="448.0,852.7 459.7,849.1 469.0,844.4 478.4,840.9 487.8,842.1 497.2,843.3 506.6,848.0 515.9,855.0 523.0,858.5 532.3,852.7 539.4,845.6 544.0,833.9 548.7,819.8 555.8,814.0 567.5,810.5 581.5,807.0 595.6,803.4 607.3,797.6 620.0,791.7 626.3,787.6 631.4,792.7 633.0,798.0 645.0,800.0 649.5,795.0 655.0,793.0 658.4,800.0 658.4,805.7 673.7,805.7 683.8,810.8"/>
<rect x="547.7" y="295.7" width="1.2" height="1.2" fill="#880000"/><rect x="540.4" y="319.6" width="1.7" height="1.7" fill="#b40000"/><rect x="557.6" y="293.3" width="1.4" height="1.4" fill="#b40000"/><rect x="545.7" y="341.7" width="1.2" height="1.2" fill="#e00000"/><rect x="541.7" y="346.2" width="1.7" height="1.7" fill="#880000"/><rect x="560.9" y="289.0" width="1.0" height="1.0" fill="#ff6e00"/><rect x="541.8" y="351.4" width="1.6" height="1.6" fill="#b40000"/><rect x="534.9" y="319.7" width="1.5" height="1.5" fill="#e00000"/><rect x="544.3" y="306.5" width="1.8" height="1.8" fill="#e00000"/><rect x="546.2" y="354.3" width="1.8" height="1.8" fill="#ff6e00"/><rect x="552.0" y="293.4" width="1.1" height="1.1" fill="#880000"/><rect x="544.4" y="305.2" width="1.8" height="1.8" fill="#ff6e00"/><rect x="538.2" y="311.2" width="1.3" height="1.3" fill="#880000"/><rect x="531.0" y="331.8" width="1.3" height="1.3" fill="#ff6e00"/><rect x="544.8" y="349.7" width="1.4" height="1.4" fill="#b40000"/><rect x="553.0" y="297.3" width="1.1" height="1.1" fill="#880000"/><rect x="542.7" y="334.2" width="1.4" height="1.4" fill="#880000"/><rect x="544.3" y="312.1" width="1.4" height="1.4" fill="#880000"/><rect x="543.8" y="302.3" width="1.5" height="1.5" fill="#ffcc00"/><rect x="547.0" y="313.8" width="1.2" height="1.2" fill="#ff6e00"/><rect x="561.2" y="287.3" width="1.2" height="1.2" fill="#ff6e00"/><rect x="532.0" y="317.0" width="1.3" height="1.3" fill="#ffcc00"/><rect x="542.5" y="353.5" width="1.8" height="1.8" fill="#ffcc00"/><rect x="555.4" y="281.6" width="1.7" height="1.7" fill="#ff6e00"/><rect x="538.2" y="320.5" width="1.8" height="1.8" fill="#b40000"/><rect x="542.1" y="319.2" width="1.2" height="1.2" fill="#ff6e00"/><rect x="539.8" y="320.2" width="1.4" height="1.4" fill="#880000"/><rect x="559.0" y="284.3" width="1.3" height="1.3" fill="#ffcc00"/><rect x="532.8" y="332.2" width="1.5" height="1.5" fill="#880000"/><rect x="556.3" y="299.6" width="1.7" height="1.7" fill="#ff6e00"/><rect x="546.2" y="346.2" width="1.1" height="1.1" fill="#880000"/><rect x="561.5" y="288.1" width="1.2" height="1.2" fill="#880000"/><rect x="551.9" y="294.1" width="1.3" height="1.3" fill="#880000"/><rect x="556.0" y="298.3" width="1.6" height="1.6" fill="#880000"/><rect x="541.1" y="333.5" width="1.4" height="1.4" fill="#880000"/><rect x="555.9" y="294.8" width="1.4" height="1.4" fill="#880000"/><rect x="555.9" y="300.0" width="1.8" height="1.8" fill="#ff6e00"/><rect x="546.7" y="357.5" width="1.2" height="1.2" fill="#880000"/><rect x="547.2" y="314.3" width="1.4" height="1.4" fill="#880000"/><rect x="540.2" y="320.4" width="1.8" height="1.8" fill="#880000"/><rect x="535.7" y="334.0" width="1.2" height="1.2" fill="#e00000"/><rect x="540.1" y="333.7" width="1.7" height="1.7" fill="#ffcc00"/><rect x="540.3" y="334.9" width="1.1" height="1.1" fill="#880000"/><rect x="555.2" y="301.9" width="1.7" height="1.7" fill="#880000"/><rect x="542.2" y="301.3" width="1.4" height="1.4" fill="#880000"/><rect x="553.9" y="304.9" width="1.5" height="1.5" fill="#880000"/><rect x="545.6" y="297.5" width="1.2" height="1.2" fill="#e00000"/><rect x="535.9" y="351.4" width="1.4" height="1.4" fill="#ffcc00"/><rect x="546.3" y="311.9" width="1.5" height="1.5" fill="#880000"/><rect x="543.8" y="352.7" width="1.1" height="1.1" fill="#e00000"/><rect x="541.8" y="335.0" width="1.1" height="1.1" fill="#e00000"/><rect x="539.4" y="331.3" width="1.1" height="1.1" fill="#880000"/><rect x="554.2" y="300.3" width="1.7" height="1.7" fill="#ffcc00"/><rect x="549.2" y="309.7" width="1.7" height="1.7" fill="#880000"/><rect x="547.2" y="354.8" width="1.4" height="1.4" fill="#ff6e00"/><rect x="548.9" y="359.0" width="1.1" height="1.1" fill="#880000"/><rect x="547.1" y="294.0" width="1.2" height="1.2" fill="#880000"/><rect x="547.3" y="307.6" width="1.3" height="1.3" fill="#880000"/><rect x="548.7" y="309.4" width="1.6" height="1.6" fill="#ffcc00"/><rect x="540.8" y="339.2" width="1.5" height="1.5" fill="#ffcc00"/><rect x="557.5" y="294.2" width="1.3" height="1.3" fill="#880000"/><rect x="549.4" y="359.3" width="1.3" height="1.3" fill="#880000"/><rect x="533.8" y="333.4" width="1.1" height="1.1" fill="#b40000"/><rect x="537.2" y="322.9" width="1.3" height="1.3" fill="#880000"/><rect x="548.8" y="305.0" width="1.4" height="1.4" fill="#880000"/><rect x="546.5" y="301.3" width="1.0" height="1.0" fill="#880000"/><rect x="542.8" y="334.6" width="1.7" height="1.7" fill="#880000"/><rect x="545.8" y="344.0" width="1.4" height="1.4" fill="#ffcc00"/><rect x="557.1" y="295.1" width="1.2" height="1.2" fill="#880000"/><rect x="545.0" y="348.7" width="1.7" height="1.7" fill="#b40000"/><rect x="533.5" y="320.4" width="1.2" height="1.2" fill="#ff6e00"/><rect x="544.0" y="319.9" width="1.1" height="1.1" fill="#880000"/><rect x="552.0" y="279.2" width="1.6" height="1.6" fill="#880000"/><rect x="549.2" y="307.8" width="1.1" height="1.1" fill="#b40000"/><rect x="536.7" y="355.1" width="1.1" height="1.1" fill="#e00000"/><rect x="550.2" y="299.6" width="1.7" height="1.7" fill="#ff6e00"/><rect x="542.5" y="318.3" width="1.5" height="1.5" fill="#880000"/><rect x="550.6" y="307.6" width="1.7" height="1.7" fill="#880000"/><rect x="549.7" y="292.1" width="1.5" height="1.5" fill="#880000"/><rect x="531.0" y="336.3" width="1.8" height="1.8" fill="#b40000"/><rect x="559.5" y="288.9" width="1.7" height="1.7" fill="#ffcc00"/><rect x="550.3" y="306.9" width="1.5" height="1.5" fill="#ff6e00"/><rect x="546.9" y="345.3" width="1.1" height="1.1" fill="#880000"/><rect x="554.0" y="304.1" width="1.7" height="1.7" fill="#ff6e00"/><rect x="544.7" y="339.2" width="1.3" height="1.3" fill="#880000"/><rect x="543.1" y="345.3" width="1.1" height="1.1" fill="#880000"/><rect x="544.2" y="343.2" width="1.8" height="1.8" fill="#ff6e00"/><rect x="549.3" y="295.3" width="1.7" height="1.7" fill="#880000"/><rect x="550.6" y="308.9" width="1.7" height="1.7" fill="#ff6e00"/><rect x="541.2" y="329.7" width="1.2" height="1.2" fill="#880000"/><rect x="548.7" y="352.7" width="1.7" height="1.7" fill="#880000"/><rect x="535.6" y="333.1" width="1.7" height="1.7" fill="#ff6e00"/><rect x="538.9" y="342.9" width="1.3" height="1.3" fill="#880000"/><rect x="541.8" y="324.2" width="1.2" height="1.2" fill="#880000"/><rect x="549.5" y="282.8" width="1.5" height="1.5" fill="#b40000"/><rect x="533.1" y="320.1" width="1.0" height="1.0" fill="#e00000"/><rect x="547.3" y="347.6" width="1.1" height="1.1" fill="#e00000"/><rect x="540.1" y="333.9" width="1.1" height="1.1" fill="#ffcc00"/><rect x="539.1" y="338.0" width="1.1" height="1.1" fill="#ffcc00"/><rect x="545.3" y="301.0" width="1.5" height="1.5" fill="#b40000"/>
<rect x="573.3" y="272.4" width="1.2" height="1.2" fill="#880000"/><rect x="569.4" y="278.0" width="1.7" height="1.7" fill="#e00000"/><rect x="575.2" y="264.1" width="1.6" height="1.6" fill="#880000"/><rect x="570.0" y="262.7" width="1.2" height="1.2" fill="#b40000"/><rect x="575.9" y="265.2" width="1.7" height="1.7" fill="#ff6e00"/><rect x="562.4" y="286.5" width="1.7" height="1.7" fill="#b40000"/><rect x="560.8" y="279.6" width="1.6" height="1.6" fill="#880000"/><rect x="567.9" y="278.9" width="1.6" height="1.6" fill="#880000"/><rect x="563.5" y="283.6" width="1.7" height="1.7" fill="#880000"/><rect x="570.7" y="263.9" width="1.1" height="1.1" fill="#b40000"/><rect x="573.4" y="270.1" width="1.2" height="1.2" fill="#880000"/><rect x="565.1" y="276.8" width="1.1" height="1.1" fill="#880000"/><rect x="567.3" y="273.9" width="1.3" height="1.3" fill="#880000"/><rect x="564.9" y="284.1" width="1.4" height="1.4" fill="#880000"/><rect x="570.5" y="275.2" width="1.4" height="1.4" fill="#880000"/>
<rect x="431.3" y="431.3" width="1.1" height="1.1" fill="#880000"/><rect x="504.1" y="381.5" width="1.2" height="1.2" fill="#880000"/><rect x="521.9" y="369.7" width="1.8" height="1.8" fill="#880000"/><rect x="468.1" y="396.4" width="1.8" height="1.8" fill="#ff6e00"/><rect x="480.2" y="391.7" width="1.7" height="1.7" fill="#880000"/><rect x="443.8" y="421.1" width="1.7" height="1.7" fill="#880000"/><rect x="494.3" y="377.7" width="1.5" height="1.5" fill="#880000"/><rect x="519.1" y="371.3" width="1.2" height="1.2" fill="#880000"/><rect x="484.2" y="388.9" width="1.6" height="1.6" fill="#ff6e00"/><rect x="523.5" y="361.0" width="1.6" height="1.6" fill="#b40000"/><rect x="437.5" y="422.7" width="1.3" height="1.3" fill="#880000"/><rect x="444.6" y="419.1" width="1.6" height="1.6" fill="#b40000"/><rect x="490.7" y="383.8" width="1.3" height="1.3" fill="#e00000"/><rect x="484.5" y="386.7" width="1.6" height="1.6" fill="#880000"/><rect x="490.0" y="378.8" width="1.5" height="1.5" fill="#880000"/><rect x="436.6" y="424.4" width="1.6" height="1.6" fill="#e00000"/><rect x="433.5" y="429.3" width="1.7" height="1.7" fill="#880000"/><rect x="471.3" y="395.3" width="1.3" height="1.3" fill="#e00000"/><rect x="434.5" y="432.0" width="1.5" height="1.5" fill="#ff6e00"/><rect x="482.9" y="387.0" width="1.3" height="1.3" fill="#b40000"/><rect x="521.5" y="366.9" width="1.7" height="1.7" fill="#880000"/><rect x="505.7" y="379.0" width="1.8" height="1.8" fill="#880000"/><rect x="534.4" y="361.1" width="1.3" height="1.3" fill="#880000"/><rect x="517.3" y="363.7" width="1.6" height="1.6" fill="#880000"/><rect x="531.9" y="365.1" width="1.8" height="1.8" fill="#880000"/><rect x="538.1" y="354.2" width="1.1" height="1.1" fill="#880000"/><rect x="503.9" y="381.2" width="1.1" height="1.1" fill="#880000"/><rect x="439.6" y="432.8" width="1.3" height="1.3" fill="#880000"/><rect x="529.2" y="358.3" width="1.4" height="1.4" fill="#880000"/><rect x="549.7" y="355.8" width="1.2" height="1.2" fill="#880000"/><rect x="545.2" y="358.8" width="1.3" height="1.3" fill="#880000"/><rect x="487.4" y="386.6" width="1.6" height="1.6" fill="#ff6e00"/><rect x="455.0" y="402.8" width="1.7" height="1.7" fill="#b40000"/><rect x="462.4" y="405.1" width="1.1" height="1.1" fill="#880000"/><rect x="462.1" y="399.9" width="1.4" height="1.4" fill="#880000"/><rect x="444.6" y="422.5" width="1.4" height="1.4" fill="#b40000"/><rect x="503.5" y="371.7" width="1.2" height="1.2" fill="#880000"/><rect x="474.5" y="397.7" width="1.6" height="1.6" fill="#880000"/><rect x="435.1" y="432.6" width="1.1" height="1.1" fill="#880000"/><rect x="529.0" y="367.2" width="1.4" height="1.4" fill="#880000"/><rect x="430.6" y="435.1" width="1.2" height="1.2" fill="#880000"/><rect x="493.5" y="385.0" width="1.5" height="1.5" fill="#880000"/><rect x="448.6" y="411.1" width="1.6" height="1.6" fill="#880000"/><rect x="510.4" y="369.3" width="1.1" height="1.1" fill="#880000"/><rect x="498.8" y="384.1" width="1.2" height="1.2" fill="#880000"/><rect x="536.8" y="363.4" width="1.1" height="1.1" fill="#880000"/><rect x="546.3" y="355.3" width="1.3" height="1.3" fill="#e00000"/><rect x="470.8" y="401.6" width="1.6" height="1.6" fill="#880000"/><rect x="494.3" y="382.5" width="1.7" height="1.7" fill="#880000"/><rect x="436.8" y="428.3" width="1.6" height="1.6" fill="#880000"/><rect x="489.0" y="387.4" width="1.5" height="1.5" fill="#880000"/><rect x="507.1" y="367.2" width="1.3" height="1.3" fill="#880000"/><rect x="443.4" y="421.4" width="1.3" height="1.3" fill="#880000"/><rect x="444.7" y="415.5" width="1.7" height="1.7" fill="#880000"/><rect x="539.9" y="357.2" width="1.2" height="1.2" fill="#e00000"/><rect x="477.5" y="398.1" width="1.1" height="1.1" fill="#880000"/><rect x="507.1" y="371.5" width="1.6" height="1.6" fill="#880000"/><rect x="523.6" y="365.5" width="1.6" height="1.6" fill="#b40000"/><rect x="531.5" y="365.1" width="1.2" height="1.2" fill="#880000"/><rect x="532.0" y="361.7" width="1.5" height="1.5" fill="#880000"/><rect x="434.6" y="432.4" width="1.5" height="1.5" fill="#880000"/><rect x="490.4" y="387.0" width="1.3" height="1.3" fill="#e00000"/><rect x="439.2" y="433.5" width="1.2" height="1.2" fill="#880000"/><rect x="481.8" y="389.7" width="1.8" height="1.8" fill="#b40000"/><rect x="448.0" y="417.8" width="1.2" height="1.2" fill="#880000"/><rect x="474.3" y="396.5" width="1.5" height="1.5" fill="#880000"/><rect x="450.5" y="416.6" width="1.2" height="1.2" fill="#880000"/><rect x="477.1" y="388.9" width="1.7" height="1.7" fill="#880000"/><rect x="438.0" y="424.0" width="1.1" height="1.1" fill="#880000"/><rect x="510.9" y="374.7" width="1.4" height="1.4" fill="#880000"/><rect x="483.6" y="391.1" width="1.8" height="1.8" fill="#ff6e00"/><rect x="437.2" y="434.3" width="1.4" height="1.4" fill="#880000"/><rect x="461.8" y="407.1" width="1.4" height="1.4" fill="#880000"/><rect x="462.7" y="405.2" width="1.7" height="1.7" fill="#880000"/><rect x="478.6" y="396.1" width="1.6" height="1.6" fill="#e00000"/><rect x="450.1" y="414.6" width="1.3" height="1.3" fill="#880000"/><rect x="542.7" y="359.5" width="1.6" height="1.6" fill="#880000"/><rect x="435.3" y="429.2" width="1.3" height="1.3" fill="#e00000"/><rect x="477.8" y="390.1" width="1.6" height="1.6" fill="#880000"/><rect x="446.5" y="419.6" width="1.4" height="1.4" fill="#880000"/><rect x="463.5" y="396.5" width="1.3" height="1.3" fill="#880000"/><rect x="478.3" y="385.7" width="1.5" height="1.5" fill="#e00000"/><rect x="450.5" y="416.3" width="1.6" height="1.6" fill="#880000"/><rect x="471.4" y="392.9" width="1.3" height="1.3" fill="#880000"/><rect x="476.0" y="390.3" width="1.6" height="1.6" fill="#880000"/><rect x="477.5" y="397.6" width="1.0" height="1.0" fill="#880000"/><rect x="465.4" y="402.8" width="1.5" height="1.5" fill="#ff6e00"/><rect x="490.7" y="386.4" width="1.3" height="1.3" fill="#880000"/><rect x="439.6" y="424.1" width="1.6" height="1.6" fill="#880000"/><rect x="486.9" y="383.3" width="1.4" height="1.4" fill="#880000"/><rect x="442.7" y="421.4" width="1.5" height="1.5" fill="#880000"/><rect x="500.7" y="376.9" width="1.2" height="1.2" fill="#b40000"/><rect x="469.8" y="395.3" width="1.1" height="1.1" fill="#880000"/><rect x="480.0" y="382.5" width="1.2" height="1.2" fill="#880000"/><rect x="511.6" y="372.2" width="1.3" height="1.3" fill="#880000"/><rect x="481.5" y="391.7" width="1.2" height="1.2" fill="#e00000"/><rect x="465.6" y="402.5" width="1.4" height="1.4" fill="#880000"/><rect x="476.9" y="387.3" width="1.2" height="1.2" fill="#880000"/><rect x="508.4" y="375.4" width="1.5" height="1.5" fill="#880000"/><rect x="498.7" y="377.0" width="1.4" height="1.4" fill="#880000"/><rect x="520.8" y="366.2" width="1.7" height="1.7" fill="#880000"/><rect x="472.0" y="400.1" width="1.8" height="1.8" fill="#880000"/><rect x="477.9" y="392.9" width="1.8" height="1.8" fill="#880000"/><rect x="532.0" y="358.6" width="1.7" height="1.7" fill="#b40000"/><rect x="521.4" y="368.6" width="1.4" height="1.4" fill="#880000"/><rect x="527.6" y="365.6" width="1.4" height="1.4" fill="#880000"/><rect x="529.9" y="361.3" width="1.8" height="1.8" fill="#880000"/><rect x="507.6" y="377.5" width="1.4" height="1.4" fill="#880000"/><rect x="454.1" y="404.7" width="1.3" height="1.3" fill="#880000"/><rect x="452.2" y="413.7" width="1.5" height="1.5" fill="#ff6e00"/><rect x="497.9" y="377.6" width="1.3" height="1.3" fill="#880000"/><rect x="459.7" y="404.9" width="1.6" height="1.6" fill="#880000"/><rect x="454.1" y="404.2" width="1.5" height="1.5" fill="#880000"/><rect x="471.8" y="401.8" width="1.3" height="1.3" fill="#880000"/><rect x="524.2" y="359.8" width="1.4" height="1.4" fill="#880000"/><rect x="534.2" y="355.5" width="1.8" height="1.8" fill="#880000"/><rect x="533.6" y="365.6" width="1.2" height="1.2" fill="#880000"/><rect x="536.2" y="355.7" width="1.0" height="1.0" fill="#b40000"/><rect x="504.7" y="371.6" width="1.5" height="1.5" fill="#b40000"/><rect x="488.2" y="379.6" width="1.3" height="1.3" fill="#880000"/><rect x="440.2" y="428.6" width="1.7" height="1.7" fill="#880000"/><rect x="507.0" y="377.9" width="1.2" height="1.2" fill="#880000"/><rect x="505.0" y="378.9" width="1.6" height="1.6" fill="#880000"/><rect x="542.3" y="351.9" width="1.7" height="1.7" fill="#880000"/><rect x="526.7" y="368.0" width="1.6" height="1.6" fill="#e00000"/><rect x="531.4" y="363.4" width="1.3" height="1.3" fill="#880000"/><rect x="453.9" y="408.6" width="1.2" height="1.2" fill="#b40000"/><rect x="541.8" y="354.7" width="1.5" height="1.5" fill="#e00000"/><rect x="505.0" y="371.1" width="1.5" height="1.5" fill="#880000"/><rect x="475.9" y="386.3" width="1.7" height="1.7" fill="#b40000"/><rect x="491.9" y="384.5" width="1.4" height="1.4" fill="#ff6e00"/><rect x="442.8" y="421.8" width="1.1" height="1.1" fill="#880000"/><rect x="438.1" y="427.7" width="1.1" height="1.1" fill="#880000"/><rect x="506.7" y="370.9" width="1.2" height="1.2" fill="#880000"/><rect x="467.8" y="403.8" width="1.2" height="1.2" fill="#880000"/><rect x="467.9" y="404.4" width="1.1" height="1.1" fill="#e00000"/><rect x="442.2" y="425.0" width="1.1" height="1.1" fill="#e00000"/><rect x="545.5" y="355.3" width="1.1" height="1.1" fill="#ff6e00"/><rect x="521.1" y="361.7" width="1.3" height="1.3" fill="#ff6e00"/><rect x="483.0" y="391.3" width="1.4" height="1.4" fill="#880000"/><rect x="532.8" y="365.7" width="1.4" height="1.4" fill="#880000"/><rect x="449.7" y="411.9" width="1.3" height="1.3" fill="#b40000"/><rect x="469.6" y="401.1" width="1.4" height="1.4" fill="#ff6e00"/><rect x="440.7" y="427.0" width="1.7" height="1.7" fill="#880000"/><rect x="527.4" y="358.7" width="1.3" height="1.3" fill="#880000"/><rect x="510.1" y="373.7" width="1.1" height="1.1" fill="#b40000"/><rect x="508.5" y="375.7" width="1.5" height="1.5" fill="#880000"/><rect x="489.5" y="386.0" width="1.8" height="1.8" fill="#e00000"/><rect x="517.9" y="366.1" width="1.6" height="1.6" fill="#ff6e00"/><rect x="545.7" y="356.9" width="1.2" height="1.2" fill="#880000"/><rect x="501.0" y="383.4" width="1.5" height="1.5" fill="#880000"/><rect x="456.4" y="405.5" width="1.5" height="1.5" fill="#e00000"/><rect x="455.8" y="403.1" width="1.7" height="1.7" fill="#880000"/><rect x="476.2" y="398.7" width="1.8" height="1.8" fill="#880000"/><rect x="530.0" y="361.6" width="1.6" height="1.6" fill="#880000"/><rect x="535.4" y="358.8" width="1.5" height="1.5" fill="#e00000"/><rect x="438.9" y="433.8" width="1.6" height="1.6" fill="#880000"/><rect x="509.2" y="367.2" width="1.4" height="1.4" fill="#880000"/><rect x="496.3" y="379.6" width="1.3" height="1.3" fill="#e00000"/><rect x="442.5" y="418.4" width="1.8" height="1.8" fill="#880000"/><rect x="547.9" y="357.6" width="1.5" height="1.5" fill="#880000"/><rect x="500.1" y="380.7" width="1.4" height="1.4" fill="#880000"/><rect x="532.9" y="365.2" width="1.7" height="1.7" fill="#e00000"/><rect x="437.4" y="434.6" width="1.5" height="1.5" fill="#880000"/><rect x="476.5" y="395.5" width="1.7" height="1.7" fill="#e00000"/><rect x="506.0" y="378.7" width="1.5" height="1.5" fill="#880000"/><rect x="445.5" y="420.5" width="1.6" height="1.6" fill="#880000"/><rect x="509.7" y="375.8" width="1.1" height="1.1" fill="#880000"/><rect x="453.5" y="413.8" width="1.1" height="1.1" fill="#880000"/><rect x="478.5" y="387.8" width="1.7" height="1.7" fill="#880000"/><rect x="539.2" y="359.6" width="1.3" height="1.3" fill="#880000"/><rect x="478.4" y="396.0" width="1.5" height="1.5" fill="#880000"/><rect x="503.1" y="382.5" width="1.8" height="1.8" fill="#e00000"/><rect x="469.6" y="400.3" width="1.2" height="1.2" fill="#880000"/><rect x="506.1" y="368.2" width="1.2" height="1.2" fill="#880000"/><rect x="459.8" y="400.6" width="1.4" height="1.4" fill="#b40000"/><rect x="519.0" y="370.7" width="1.2" height="1.2" fill="#880000"/><rect x="513.8" y="364.0" width="1.7" height="1.7" fill="#b40000"/><rect x="533.3" y="363.0" width="1.4" height="1.4" fill="#b40000"/><rect x="502.7" y="382.5" width="1.1" height="1.1" fill="#880000"/><rect x="478.4" y="386.1" width="1.6" height="1.6" fill="#ff6e00"/><rect x="542.1" y="355.6" width="1.2" height="1.2" fill="#b40000"/><rect x="513.2" y="372.1" width="1.4" height="1.4" fill="#880000"/><rect x="451.4" y="410.4" width="1.6" height="1.6" fill="#e00000"/><rect x="521.1" y="370.5" width="1.1" height="1.1" fill="#e00000"/><rect x="470.1" y="402.2" width="1.5" height="1.5" fill="#880000"/><rect x="472.1" y="396.5" width="1.5" height="1.5" fill="#880000"/><rect x="478.9" y="389.8" width="1.4" height="1.4" fill="#880000"/><rect x="531.5" y="365.2" width="1.4" height="1.4" fill="#880000"/><rect x="438.4" y="430.9" width="1.6" height="1.6" fill="#880000"/><rect x="536.5" y="362.2" width="1.3" height="1.3" fill="#880000"/><rect x="435.6" y="430.7" width="1.7" height="1.7" fill="#e00000"/><rect x="479.3" y="383.8" width="1.1" height="1.1" fill="#880000"/><rect x="493.9" y="381.4" width="1.6" height="1.6" fill="#880000"/><rect x="433.1" y="438.4" width="1.6" height="1.6" fill="#880000"/><rect x="481.6" y="385.5" width="1.4" height="1.4" fill="#b40000"/><rect x="453.1" y="413.8" width="1.1" height="1.1" fill="#880000"/><rect x="454.0" y="406.6" width="1.6" height="1.6" fill="#880000"/><rect x="506.9" y="368.4" width="1.8" height="1.8" fill="#880000"/><rect x="473.8" y="389.8" width="1.4" height="1.4" fill="#880000"/><rect x="441.7" y="426.5" width="1.2" height="1.2" fill="#880000"/><rect x="481.3" y="394.1" width="1.1" height="1.1" fill="#b40000"/><rect x="444.5" y="417.8" width="1.1" height="1.1" fill="#880000"/><rect x="482.5" y="388.6" width="1.4" height="1.4" fill="#b40000"/><rect x="453.8" y="412.8" width="1.4" height="1.4" fill="#880000"/><rect x="500.8" y="374.1" width="1.4" height="1.4" fill="#880000"/><rect x="494.0" y="383.7" width="1.2" height="1.2" fill="#e00000"/><rect x="476.8" y="398.5" width="1.2" height="1.2" fill="#880000"/><rect x="516.7" y="371.5" width="1.5" height="1.5" fill="#880000"/><rect x="478.7" y="395.5" width="1.4" height="1.4" fill="#e00000"/><rect x="524.7" y="366.7" width="1.3" height="1.3" fill="#880000"/><rect x="472.3" y="401.4" width="1.5" height="1.5" fill="#b40000"/><rect x="546.2" y="358.6" width="1.8" height="1.8" fill="#880000"/><rect x="479.2" y="391.5" width="1.2" height="1.2" fill="#880000"/><rect x="461.7" y="406.1" width="1.7" height="1.7" fill="#e00000"/><rect x="515.0" y="365.3" width="1.4" height="1.4" fill="#880000"/><rect x="434.3" y="431.4" width="1.1" height="1.1" fill="#b40000"/><rect x="465.8" y="404.9" width="1.1" height="1.1" fill="#b40000"/><rect x="473.7" y="396.2" width="1.1" height="1.1" fill="#e00000"/><rect x="455.4" y="404.0" width="1.5" height="1.5" fill="#e00000"/>
<rect x="441.6" y="467.1" width="1.8" height="1.8" fill="#880000"/><rect x="452.1" y="491.2" width="1.7" height="1.7" fill="#880000"/><rect x="452.2" y="490.6" width="1.8" height="1.8" fill="#880000"/><rect x="449.1" y="492.0" width="1.3" height="1.3" fill="#880000"/><rect x="461.8" y="532.3" width="1.7" height="1.7" fill="#880000"/><rect x="452.9" y="497.8" width="1.2" height="1.2" fill="#880000"/><rect x="458.4" y="542.6" width="1.7" height="1.7" fill="#880000"/><rect x="442.8" y="470.6" width="1.6" height="1.6" fill="#880000"/><rect x="458.6" y="538.5" width="1.8" height="1.8" fill="#880000"/><rect x="438.8" y="455.4" width="1.1" height="1.1" fill="#880000"/><rect x="435.2" y="466.5" width="1.6" height="1.6" fill="#880000"/><rect x="460.9" y="531.4" width="1.5" height="1.5" fill="#880000"/><rect x="456.3" y="497.3" width="1.7" height="1.7" fill="#880000"/><rect x="454.7" y="512.8" width="1.8" height="1.8" fill="#880000"/><rect x="462.3" y="511.2" width="1.8" height="1.8" fill="#880000"/><rect x="457.8" y="536.3" width="1.5" height="1.5" fill="#880000"/><rect x="456.1" y="545.4" width="1.1" height="1.1" fill="#880000"/><rect x="453.8" y="531.7" width="1.3" height="1.3" fill="#880000"/><rect x="431.4" y="447.8" width="1.3" height="1.3" fill="#880000"/><rect x="456.1" y="522.0" width="1.5" height="1.5" fill="#880000"/><rect x="461.8" y="521.5" width="1.5" height="1.5" fill="#880000"/><rect x="459.3" y="538.8" width="1.8" height="1.8" fill="#880000"/><rect x="447.9" y="473.0" width="1.8" height="1.8" fill="#880000"/><rect x="457.0" y="543.7" width="1.2" height="1.2" fill="#880000"/><rect x="431.5" y="445.0" width="1.3" height="1.3" fill="#880000"/><rect x="433.7" y="457.7" width="1.4" height="1.4" fill="#880000"/><rect x="453.7" y="496.9" width="1.5" height="1.5" fill="#880000"/><rect x="457.1" y="539.6" width="1.5" height="1.5" fill="#880000"/><rect x="454.8" y="516.7" width="1.8" height="1.8" fill="#880000"/><rect x="454.6" y="496.5" width="1.7" height="1.7" fill="#880000"/><rect x="455.7" y="545.0" width="1.5" height="1.5" fill="#880000"/><rect x="461.8" y="507.2" width="1.4" height="1.4" fill="#880000"/><rect x="461.4" y="512.3" width="1.6" height="1.6" fill="#880000"/><rect x="438.1" y="441.7" width="1.8" height="1.8" fill="#880000"/><rect x="443.3" y="468.3" width="1.2" height="1.2" fill="#880000"/><rect x="437.0" y="462.3" width="1.3" height="1.3" fill="#880000"/><rect x="446.2" y="482.5" width="1.8" height="1.8" fill="#880000"/><rect x="462.6" y="512.7" width="1.5" height="1.5" fill="#880000"/><rect x="444.9" y="469.6" width="1.5" height="1.5" fill="#880000"/><rect x="435.5" y="450.7" width="1.6" height="1.6" fill="#880000"/><rect x="438.3" y="467.5" width="1.1" height="1.1" fill="#880000"/><rect x="462.8" y="519.6" width="1.3" height="1.3" fill="#880000"/><rect x="463.3" y="524.6" width="1.3" height="1.3" fill="#880000"/><rect x="459.6" y="530.0" width="1.3" height="1.3" fill="#880000"/><rect x="462.8" y="529.1" width="1.5" height="1.5" fill="#880000"/><rect x="451.0" y="485.5" width="1.4" height="1.4" fill="#880000"/><rect x="461.1" y="507.9" width="1.1" height="1.1" fill="#880000"/><rect x="452.7" y="483.7" width="1.8" height="1.8" fill="#880000"/><rect x="453.4" y="531.8" width="1.5" height="1.5" fill="#880000"/><rect x="452.4" y="542.8" width="1.6" height="1.6" fill="#880000"/><rect x="458.5" y="529.9" width="1.5" height="1.5" fill="#880000"/><rect x="455.0" y="533.7" width="1.1" height="1.1" fill="#880000"/><rect x="444.6" y="466.4" width="1.7" height="1.7" fill="#880000"/><rect x="457.9" y="535.8" width="1.4" height="1.4" fill="#880000"/><rect x="437.0" y="454.2" width="1.6" height="1.6" fill="#880000"/><rect x="456.1" y="496.6" width="1.3" height="1.3" fill="#880000"/><rect x="438.8" y="470.4" width="1.7" height="1.7" fill="#880000"/><rect x="438.2" y="446.4" width="1.5" height="1.5" fill="#880000"/><rect x="462.5" y="527.7" width="1.8" height="1.8" fill="#880000"/><rect x="456.6" y="526.3" width="1.4" height="1.4" fill="#880000"/><rect x="458.3" y="501.4" width="1.2" height="1.2" fill="#880000"/><rect x="458.7" y="506.5" width="1.4" height="1.4" fill="#880000"/><rect x="463.2" y="523.2" width="1.6" height="1.6" fill="#880000"/><rect x="438.4" y="444.4" width="1.8" height="1.8" fill="#880000"/><rect x="462.7" y="532.3" width="1.3" height="1.3" fill="#880000"/><rect x="447.1" y="474.3" width="1.5" height="1.5" fill="#880000"/><rect x="450.4" y="478.7" width="1.4" height="1.4" fill="#880000"/><rect x="439.7" y="453.9" width="1.7" height="1.7" fill="#880000"/><rect x="459.6" y="500.1" width="1.5" height="1.5" fill="#880000"/><rect x="461.6" y="523.9" width="1.5" height="1.5" fill="#880000"/><rect x="452.4" y="486.1" width="1.6" height="1.6" fill="#880000"/><rect x="441.0" y="477.5" width="1.4" height="1.4" fill="#880000"/><rect x="442.1" y="467.8" width="1.7" height="1.7" fill="#880000"/><rect x="443.4" y="464.4" width="1.8" height="1.8" fill="#880000"/><rect x="444.8" y="483.3" width="1.1" height="1.1" fill="#880000"/><rect x="454.7" y="513.9" width="1.6" height="1.6" fill="#880000"/><rect x="459.8" y="518.6" width="1.7" height="1.7" fill="#880000"/><rect x="460.6" y="516.6" width="1.6" height="1.6" fill="#880000"/><rect x="438.4" y="444.4" width="1.6" height="1.6" fill="#880000"/><rect x="445.6" y="482.7" width="1.7" height="1.7" fill="#880000"/><rect x="433.1" y="455.6" width="1.7" height="1.7" fill="#880000"/><rect x="456.0" y="540.6" width="1.1" height="1.1" fill="#880000"/><rect x="460.7" y="522.3" width="1.1" height="1.1" fill="#880000"/><rect x="455.2" y="520.7" width="1.5" height="1.5" fill="#880000"/><rect x="462.0" y="533.6" width="1.2" height="1.2" fill="#880000"/><rect x="441.3" y="460.0" width="1.2" height="1.2" fill="#880000"/><rect x="452.7" y="505.7" width="1.8" height="1.8" fill="#880000"/><rect x="450.8" y="480.1" width="1.7" height="1.7" fill="#880000"/><rect x="456.5" y="542.8" width="1.2" height="1.2" fill="#880000"/><rect x="446.3" y="486.0" width="1.1" height="1.1" fill="#880000"/><rect x="455.4" y="520.5" width="1.5" height="1.5" fill="#880000"/><rect x="462.6" y="532.4" width="1.2" height="1.2" fill="#880000"/><rect x="449.8" y="498.0" width="1.6" height="1.6" fill="#880000"/><rect x="459.2" y="530.8" width="1.7" height="1.7" fill="#880000"/><rect x="447.4" y="473.4" width="1.2" height="1.2" fill="#880000"/><rect x="459.0" y="500.7" width="1.6" height="1.6" fill="#880000"/><rect x="431.9" y="458.9" width="1.6" height="1.6" fill="#880000"/><rect x="439.7" y="463.6" width="1.4" height="1.4" fill="#880000"/><rect x="456.1" y="517.3" width="1.7" height="1.7" fill="#880000"/><rect x="461.6" y="534.8" width="1.7" height="1.7" fill="#880000"/><rect x="456.5" y="510.4" width="1.8" height="1.8" fill="#880000"/><rect x="462.0" y="532.0" width="1.6" height="1.6" fill="#880000"/><rect x="436.4" y="456.3" width="1.7" height="1.7" fill="#880000"/><rect x="439.2" y="470.9" width="1.2" height="1.2" fill="#880000"/><rect x="433.2" y="450.5" width="1.1" height="1.1" fill="#880000"/><rect x="461.9" y="529.8" width="1.4" height="1.4" fill="#880000"/><rect x="462.0" y="518.7" width="1.3" height="1.3" fill="#880000"/><rect x="451.7" y="486.9" width="1.5" height="1.5" fill="#880000"/><rect x="460.7" y="519.6" width="1.5" height="1.5" fill="#880000"/><rect x="438.7" y="453.2" width="1.1" height="1.1" fill="#880000"/>
<rect x="435.8" y="532.8" width="1.4" height="1.4" fill="#880000"/><rect x="446.1" y="546.9" width="1.7" height="1.7" fill="#880000"/><rect x="414.5" y="473.6" width="1.3" height="1.3" fill="#880000"/><rect x="439.7" y="539.3" width="1.8" height="1.8" fill="#880000"/><rect x="452.7" y="543.2" width="1.7" height="1.7" fill="#880000"/><rect x="439.3" y="537.0" width="1.1" height="1.1" fill="#880000"/><rect x="418.4" y="494.2" width="1.2" height="1.2" fill="#880000"/><rect x="419.9" y="508.3" width="1.0" height="1.0" fill="#880000"/><rect x="434.8" y="523.6" width="1.7" height="1.7" fill="#880000"/><rect x="419.2" y="503.5" width="1.4" height="1.4" fill="#880000"/><rect x="441.6" y="540.4" width="1.1" height="1.1" fill="#880000"/><rect x="427.4" y="505.6" width="1.6" height="1.6" fill="#880000"/><rect x="445.1" y="540.2" width="1.4" height="1.4" fill="#880000"/><rect x="441.0" y="534.8" width="1.2" height="1.2" fill="#880000"/><rect x="424.4" y="510.8" width="1.7" height="1.7" fill="#880000"/><rect x="445.2" y="546.3" width="1.3" height="1.3" fill="#880000"/><rect x="420.1" y="497.4" width="1.3" height="1.3" fill="#880000"/><rect x="441.2" y="538.0" width="1.3" height="1.3" fill="#880000"/><rect x="451.3" y="541.2" width="1.6" height="1.6" fill="#880000"/><rect x="394.9" y="458.4" width="1.3" height="1.3" fill="#880000"/><rect x="444.4" y="539.6" width="1.3" height="1.3" fill="#880000"/><rect x="440.2" y="536.6" width="1.2" height="1.2" fill="#880000"/><rect x="414.5" y="494.4" width="1.3" height="1.3" fill="#880000"/><rect x="421.7" y="509.5" width="1.8" height="1.8" fill="#880000"/><rect x="415.8" y="496.4" width="1.4" height="1.4" fill="#880000"/><rect x="437.4" y="535.7" width="1.6" height="1.6" fill="#880000"/><rect x="421.8" y="495.9" width="1.5" height="1.5" fill="#880000"/><rect x="415.0" y="496.7" width="1.1" height="1.1" fill="#880000"/><rect x="421.0" y="499.5" width="1.5" height="1.5" fill="#880000"/><rect x="438.4" y="536.5" width="1.4" height="1.4" fill="#880000"/><rect x="451.7" y="545.4" width="1.5" height="1.5" fill="#880000"/><rect x="422.8" y="513.2" width="1.1" height="1.1" fill="#880000"/><rect x="435.0" y="530.4" width="1.6" height="1.6" fill="#880000"/><rect x="423.6" y="514.3" width="1.1" height="1.1" fill="#880000"/><rect x="399.6" y="458.4" width="1.8" height="1.8" fill="#880000"/><rect x="421.5" y="488.7" width="1.4" height="1.4" fill="#880000"/><rect x="446.3" y="546.5" width="1.3" height="1.3" fill="#880000"/><rect x="420.6" y="488.0" width="1.7" height="1.7" fill="#880000"/><rect x="420.0" y="500.4" width="1.3" height="1.3" fill="#880000"/><rect x="426.1" y="516.1" width="1.8" height="1.8" fill="#880000"/><rect x="415.5" y="485.6" width="1.6" height="1.6" fill="#880000"/><rect x="438.9" y="526.0" width="1.6" height="1.6" fill="#880000"/><rect x="421.8" y="508.0" width="1.8" height="1.8" fill="#880000"/><rect x="437.0" y="534.9" width="1.1" height="1.1" fill="#880000"/><rect x="403.4" y="463.9" width="1.7" height="1.7" fill="#880000"/><rect x="421.2" y="496.7" width="1.2" height="1.2" fill="#880000"/><rect x="419.8" y="493.9" width="1.8" height="1.8" fill="#880000"/><rect x="421.6" y="511.9" width="1.4" height="1.4" fill="#880000"/><rect x="407.0" y="463.1" width="1.1" height="1.1" fill="#880000"/><rect x="451.1" y="542.5" width="1.3" height="1.3" fill="#880000"/><rect x="427.1" y="521.8" width="1.3" height="1.3" fill="#880000"/><rect x="412.2" y="470.6" width="1.6" height="1.6" fill="#880000"/><rect x="406.6" y="465.1" width="1.1" height="1.1" fill="#880000"/><rect x="421.1" y="492.7" width="1.4" height="1.4" fill="#880000"/><rect x="418.3" y="480.7" width="1.5" height="1.5" fill="#880000"/><rect x="399.0" y="458.9" width="1.7" height="1.7" fill="#880000"/><rect x="445.4" y="536.4" width="1.6" height="1.6" fill="#880000"/><rect x="433.2" y="519.3" width="1.5" height="1.5" fill="#880000"/><rect x="401.9" y="458.1" width="1.5" height="1.5" fill="#880000"/><rect x="443.5" y="544.8" width="1.5" height="1.5" fill="#880000"/><rect x="418.5" y="502.2" width="1.3" height="1.3" fill="#880000"/><rect x="421.2" y="470.5" width="1.6" height="1.6" fill="#880000"/><rect x="415.3" y="493.1" width="1.7" height="1.7" fill="#880000"/><rect x="420.8" y="494.2" width="1.5" height="1.5" fill="#880000"/><rect x="421.4" y="511.4" width="1.8" height="1.8" fill="#880000"/><rect x="428.8" y="521.1" width="1.6" height="1.6" fill="#880000"/><rect x="415.6" y="491.7" width="1.2" height="1.2" fill="#880000"/><rect x="413.6" y="468.0" width="1.1" height="1.1" fill="#880000"/><rect x="421.8" y="489.6" width="1.6" height="1.6" fill="#880000"/><rect x="429.4" y="523.0" width="1.5" height="1.5" fill="#880000"/><rect x="421.1" y="500.2" width="1.7" height="1.7" fill="#880000"/><rect x="414.3" y="464.1" width="1.2" height="1.2" fill="#880000"/><rect x="394.5" y="453.1" width="1.6" height="1.6" fill="#880000"/><rect x="394.0" y="457.4" width="1.6" height="1.6" fill="#880000"/><rect x="417.9" y="474.6" width="1.7" height="1.7" fill="#880000"/><rect x="422.3" y="484.3" width="1.7" height="1.7" fill="#880000"/><rect x="417.2" y="481.5" width="1.6" height="1.6" fill="#880000"/><rect x="418.2" y="499.7" width="1.7" height="1.7" fill="#880000"/><rect x="425.2" y="515.7" width="1.3" height="1.3" fill="#880000"/><rect x="422.9" y="514.9" width="1.7" height="1.7" fill="#880000"/><rect x="423.1" y="508.6" width="1.4" height="1.4" fill="#880000"/><rect x="424.4" y="517.7" width="1.4" height="1.4" fill="#880000"/><rect x="396.5" y="455.1" width="1.5" height="1.5" fill="#880000"/><rect x="430.1" y="524.9" width="1.4" height="1.4" fill="#880000"/><rect x="417.2" y="489.7" width="1.2" height="1.2" fill="#880000"/><rect x="436.5" y="532.2" width="1.2" height="1.2" fill="#880000"/><rect x="414.0" y="468.2" width="1.1" height="1.1" fill="#880000"/><rect x="439.5" y="529.5" width="1.1" height="1.1" fill="#880000"/><rect x="429.6" y="524.3" width="1.7" height="1.7" fill="#880000"/><rect x="418.3" y="489.3" width="1.6" height="1.6" fill="#880000"/>
<rect x="321.2" y="445.3" width="1.1" height="1.1" fill="#ff6e00"/><rect x="344.7" y="441.0" width="1.7" height="1.7" fill="#880000"/><rect x="384.6" y="454.8" width="1.3" height="1.3" fill="#880000"/><rect x="386.6" y="455.7" width="1.4" height="1.4" fill="#880000"/><rect x="373.6" y="454.7" width="1.2" height="1.2" fill="#b40000"/><rect x="306.3" y="450.8" width="1.1" height="1.1" fill="#e00000"/><rect x="403.4" y="456.0" width="1.6" height="1.6" fill="#880000"/><rect x="289.4" y="461.2" width="1.3" height="1.3" fill="#880000"/><rect x="287.0" y="462.4" width="1.2" height="1.2" fill="#880000"/><rect x="289.7" y="462.3" width="1.3" height="1.3" fill="#b40000"/><rect x="357.7" y="452.8" width="1.2" height="1.2" fill="#880000"/><rect x="363.7" y="448.6" width="1.5" height="1.5" fill="#880000"/><rect x="314.3" y="446.9" width="1.7" height="1.7" fill="#880000"/><rect x="341.1" y="448.1" width="1.4" height="1.4" fill="#e00000"/><rect x="376.9" y="459.7" width="1.8" height="1.8" fill="#880000"/><rect x="358.5" y="451.4" width="1.7" height="1.7" fill="#ff6e00"/><rect x="358.2" y="449.6" width="1.4" height="1.4" fill="#880000"/><rect x="310.9" y="446.1" width="1.1" height="1.1" fill="#880000"/><rect x="369.3" y="455.6" width="1.3" height="1.3" fill="#e00000"/><rect x="359.6" y="450.8" width="1.1" height="1.1" fill="#e00000"/><rect x="313.1" y="444.9" width="1.1" height="1.1" fill="#880000"/><rect x="288.8" y="459.2" width="1.4" height="1.4" fill="#880000"/><rect x="357.3" y="452.5" width="1.8" height="1.8" fill="#880000"/><rect x="332.2" y="448.7" width="1.3" height="1.3" fill="#880000"/><rect x="305.7" y="446.7" width="1.8" height="1.8" fill="#880000"/><rect x="379.0" y="459.4" width="1.8" height="1.8" fill="#ff6e00"/><rect x="399.0" y="454.8" width="1.7" height="1.7" fill="#880000"/><rect x="344.9" y="447.5" width="1.8" height="1.8" fill="#880000"/><rect x="318.6" y="444.4" width="1.7" height="1.7" fill="#880000"/><rect x="381.2" y="452.9" width="1.5" height="1.5" fill="#880000"/><rect x="307.5" y="450.8" width="1.3" height="1.3" fill="#b40000"/><rect x="394.1" y="455.3" width="1.4" height="1.4" fill="#880000"/><rect x="285.3" y="468.6" width="1.4" height="1.4" fill="#ff6e00"/><rect x="339.9" y="444.2" width="1.3" height="1.3" fill="#e00000"/><rect x="344.1" y="441.8" width="1.3" height="1.3" fill="#880000"/><rect x="283.1" y="467.7" width="1.7" height="1.7" fill="#e00000"/><rect x="375.7" y="458.4" width="1.6" height="1.6" fill="#ff6e00"/><rect x="296.2" y="450.0" width="1.6" height="1.6" fill="#880000"/><rect x="323.1" y="448.6" width="1.5" height="1.5" fill="#880000"/><rect x="323.8" y="447.6" width="1.6" height="1.6" fill="#880000"/><rect x="317.6" y="446.2" width="1.5" height="1.5" fill="#880000"/><rect x="327.2" y="449.9" width="1.6" height="1.6" fill="#ff6e00"/><rect x="362.3" y="453.9" width="1.7" height="1.7" fill="#880000"/><rect x="317.6" y="444.8" width="1.3" height="1.3" fill="#880000"/><rect x="362.7" y="446.3" width="1.3" height="1.3" fill="#b40000"/><rect x="299.0" y="443.9" width="1.8" height="1.8" fill="#e00000"/><rect x="286.7" y="461.4" width="1.8" height="1.8" fill="#ff6e00"/><rect x="374.1" y="460.7" width="1.3" height="1.3" fill="#e00000"/><rect x="388.3" y="451.1" width="1.2" height="1.2" fill="#b40000"/><rect x="308.5" y="447.5" width="1.3" height="1.3" fill="#b40000"/><rect x="330.6" y="442.6" width="1.6" height="1.6" fill="#880000"/><rect x="396.4" y="459.1" width="1.5" height="1.5" fill="#e00000"/><rect x="374.3" y="455.8" width="1.5" height="1.5" fill="#880000"/><rect x="396.3" y="456.5" width="1.2" height="1.2" fill="#880000"/><rect x="292.7" y="452.5" width="1.4" height="1.4" fill="#880000"/><rect x="331.7" y="447.9" width="1.3" height="1.3" fill="#880000"/><rect x="322.6" y="446.7" width="1.6" height="1.6" fill="#880000"/><rect x="356.3" y="450.9" width="1.7" height="1.7" fill="#880000"/><rect x="296.2" y="446.9" width="1.3" height="1.3" fill="#ff6e00"/><rect x="397.8" y="455.8" width="1.3" height="1.3" fill="#880000"/><rect x="336.1" y="440.9" width="1.8" height="1.8" fill="#880000"/><rect x="303.0" y="449.1" width="1.3" height="1.3" fill="#ff6e00"/><rect x="379.8" y="455.0" width="1.8" height="1.8" fill="#e00000"/><rect x="286.5" y="463.3" width="1.7" height="1.7" fill="#880000"/><rect x="319.3" y="449.9" width="1.5" height="1.5" fill="#880000"/><rect x="322.5" y="450.2" width="1.4" height="1.4" fill="#b40000"/><rect x="287.9" y="463.9" width="1.8" height="1.8" fill="#e00000"/><rect x="358.3" y="444.1" width="1.5" height="1.5" fill="#880000"/><rect x="367.7" y="453.1" width="1.2" height="1.2" fill="#e00000"/><rect x="402.3" y="453.7" width="1.4" height="1.4" fill="#880000"/><rect x="367.2" y="458.8" width="1.6" height="1.6" fill="#880000"/><rect x="288.9" y="461.2" width="1.6" height="1.6" fill="#880000"/><rect x="301.9" y="451.0" width="1.5" height="1.5" fill="#ff6e00"/><rect x="369.4" y="459.7" width="1.2" height="1.2" fill="#880000"/><rect x="365.8" y="461.5" width="1.3" height="1.3" fill="#880000"/><rect x="323.5" y="448.1" width="1.1" height="1.1" fill="#880000"/><rect x="383.4" y="456.6" width="1.5" height="1.5" fill="#880000"/><rect x="313.6" y="450.3" width="1.3" height="1.3" fill="#880000"/><rect x="313.6" y="447.5" width="1.0" height="1.0" fill="#880000"/><rect x="330.7" y="445.0" width="1.7" height="1.7" fill="#880000"/><rect x="332.1" y="449.7" width="1.5" height="1.5" fill="#b40000"/><rect x="324.7" y="444.4" width="1.7" height="1.7" fill="#e00000"/><rect x="299.6" y="448.6" width="1.7" height="1.7" fill="#880000"/><rect x="344.3" y="443.7" width="1.7" height="1.7" fill="#880000"/><rect x="318.4" y="445.4" width="1.5" height="1.5" fill="#880000"/><rect x="342.7" y="448.1" width="1.4" height="1.4" fill="#880000"/><rect x="331.5" y="447.1" width="1.5" height="1.5" fill="#880000"/><rect x="349.6" y="447.5" width="1.1" height="1.1" fill="#880000"/><rect x="371.4" y="455.7" width="1.6" height="1.6" fill="#880000"/><rect x="399.5" y="455.5" width="1.8" height="1.8" fill="#880000"/>
<rect x="175.7" y="469.6" width="1.6" height="1.6" fill="#e00000"/><rect x="277.7" y="473.1" width="1.4" height="1.4" fill="#ffcc00"/><rect x="181.3" y="470.4" width="1.3" height="1.3" fill="#880000"/><rect x="175.1" y="470.9" width="1.8" height="1.8" fill="#b40000"/><rect x="210.4" y="460.7" width="1.5" height="1.5" fill="#ffcc00"/><rect x="176.6" y="474.2" width="1.6" height="1.6" fill="#ffcc00"/><rect x="171.9" y="476.8" width="1.3" height="1.3" fill="#880000"/><rect x="228.3" y="461.8" width="1.6" height="1.6" fill="#880000"/><rect x="186.3" y="461.8" width="1.8" height="1.8" fill="#880000"/><rect x="203.3" y="460.8" width="1.8" height="1.8" fill="#fff500"/><rect x="217.7" y="455.6" width="1.4" height="1.4" fill="#880000"/><rect x="194.9" y="459.1" width="1.8" height="1.8" fill="#ff6e00"/><rect x="278.1" y="471.9" width="1.4" height="1.4" fill="#ffcc00"/><rect x="235.4" y="463.2" width="1.7" height="1.7" fill="#ff6e00"/><rect x="212.5" y="460.7" width="1.2" height="1.2" fill="#fff500"/><rect x="185.8" y="466.9" width="1.1" height="1.1" fill="#880000"/><rect x="258.4" y="464.5" width="1.0" height="1.0" fill="#ff6e00"/><rect x="180.0" y="472.8" width="1.5" height="1.5" fill="#880000"/><rect x="191.0" y="461.7" width="1.3" height="1.3" fill="#880000"/><rect x="231.4" y="462.9" width="1.1" height="1.1" fill="#e00000"/><rect x="227.5" y="458.2" width="1.1" height="1.1" fill="#b40000"/><rect x="224.8" y="456.9" width="1.7" height="1.7" fill="#880000"/><rect x="189.7" y="459.0" width="1.7" height="1.7" fill="#e00000"/><rect x="232.5" y="463.0" width="1.4" height="1.4" fill="#b40000"/><rect x="187.5" y="465.3" width="1.2" height="1.2" fill="#880000"/><rect x="190.6" y="463.6" width="1.1" height="1.1" fill="#880000"/><rect x="210.8" y="460.3" width="1.2" height="1.2" fill="#880000"/><rect x="215.6" y="459.9" width="1.2" height="1.2" fill="#ff6e00"/><rect x="229.0" y="456.9" width="1.4" height="1.4" fill="#ffcc00"/><rect x="201.1" y="458.6" width="1.2" height="1.2" fill="#e00000"/><rect x="233.0" y="462.3" width="1.3" height="1.3" fill="#e00000"/><rect x="190.8" y="457.6" width="1.3" height="1.3" fill="#ffcc00"/><rect x="201.2" y="460.7" width="1.8" height="1.8" fill="#b40000"/><rect x="185.1" y="468.4" width="1.5" height="1.5" fill="#880000"/><rect x="197.5" y="456.0" width="1.1" height="1.1" fill="#880000"/><rect x="180.5" y="472.4" width="1.3" height="1.3" fill="#880000"/><rect x="158.6" y="478.2" width="1.8" height="1.8" fill="#880000"/><rect x="262.3" y="471.9" width="1.4" height="1.4" fill="#880000"/><rect x="176.6" y="469.5" width="1.1" height="1.1" fill="#e00000"/><rect x="253.3" y="466.3" width="1.6" height="1.6" fill="#880000"/><rect x="251.3" y="465.6" width="1.5" height="1.5" fill="#880000"/><rect x="269.2" y="473.4" width="1.4" height="1.4" fill="#fff500"/><rect x="185.7" y="468.0" width="1.6" height="1.6" fill="#880000"/><rect x="267.5" y="469.1" width="1.2" height="1.2" fill="#880000"/><rect x="197.6" y="462.0" width="1.4" height="1.4" fill="#fff500"/><rect x="187.3" y="461.4" width="1.7" height="1.7" fill="#880000"/><rect x="261.0" y="465.0" width="1.6" height="1.6" fill="#e00000"/><rect x="223.6" y="461.2" width="1.1" height="1.1" fill="#ffcc00"/><rect x="174.1" y="468.6" width="1.3" height="1.3" fill="#880000"/><rect x="277.2" y="471.3" width="1.3" height="1.3" fill="#880000"/><rect x="156.8" y="483.6" width="1.1" height="1.1" fill="#880000"/><rect x="271.0" y="468.4" width="1.2" height="1.2" fill="#fff500"/><rect x="181.0" y="466.8" width="1.3" height="1.3" fill="#880000"/><rect x="275.5" y="466.1" width="1.6" height="1.6" fill="#880000"/><rect x="237.6" y="463.8" width="1.1" height="1.1" fill="#fff500"/><rect x="209.3" y="458.9" width="1.5" height="1.5" fill="#e00000"/><rect x="265.9" y="472.9" width="1.2" height="1.2" fill="#880000"/><rect x="187.6" y="466.4" width="1.4" height="1.4" fill="#880000"/><rect x="169.1" y="473.9" width="1.6" height="1.6" fill="#880000"/><rect x="186.6" y="467.1" width="1.6" height="1.6" fill="#880000"/><rect x="152.6" y="483.8" width="1.7" height="1.7" fill="#880000"/><rect x="206.2" y="460.3" width="1.7" height="1.7" fill="#880000"/><rect x="212.2" y="460.8" width="1.5" height="1.5" fill="#ff6e00"/><rect x="191.7" y="460.3" width="1.5" height="1.5" fill="#fff500"/><rect x="183.2" y="469.1" width="1.8" height="1.8" fill="#880000"/><rect x="262.0" y="469.3" width="1.1" height="1.1" fill="#b40000"/><rect x="280.1" y="470.6" width="1.1" height="1.1" fill="#880000"/><rect x="187.2" y="466.9" width="1.5" height="1.5" fill="#880000"/><rect x="274.6" y="472.9" width="1.2" height="1.2" fill="#b40000"/><rect x="207.0" y="454.7" width="1.1" height="1.1" fill="#880000"/><rect x="272.2" y="470.8" width="1.2" height="1.2" fill="#880000"/><rect x="193.4" y="463.5" width="1.6" height="1.6" fill="#880000"/><rect x="260.9" y="468.1" width="1.6" height="1.6" fill="#880000"/><rect x="189.8" y="460.9" width="1.6" height="1.6" fill="#fff500"/><rect x="249.5" y="465.6" width="1.6" height="1.6" fill="#fff500"/><rect x="179.0" y="473.4" width="1.1" height="1.1" fill="#ffcc00"/><rect x="212.2" y="456.7" width="1.3" height="1.3" fill="#fff500"/><rect x="213.7" y="458.2" width="1.1" height="1.1" fill="#fff500"/><rect x="234.3" y="463.2" width="1.3" height="1.3" fill="#880000"/><rect x="189.1" y="464.6" width="1.7" height="1.7" fill="#fff500"/><rect x="275.7" y="473.1" width="1.3" height="1.3" fill="#880000"/><rect x="218.6" y="459.2" width="1.1" height="1.1" fill="#880000"/><rect x="203.2" y="460.9" width="1.1" height="1.1" fill="#880000"/><rect x="209.6" y="460.3" width="1.3" height="1.3" fill="#fff500"/><rect x="202.1" y="458.9" width="1.7" height="1.7" fill="#fff500"/><rect x="161.6" y="482.2" width="1.7" height="1.7" fill="#880000"/><rect x="258.3" y="468.8" width="1.5" height="1.5" fill="#880000"/><rect x="157.8" y="479.5" width="1.2" height="1.2" fill="#ff6e00"/><rect x="262.7" y="471.2" width="1.7" height="1.7" fill="#e00000"/><rect x="211.7" y="457.2" width="1.2" height="1.2" fill="#e00000"/><rect x="195.5" y="461.6" width="1.7" height="1.7" fill="#e00000"/><rect x="170.8" y="477.5" width="1.3" height="1.3" fill="#880000"/><rect x="246.1" y="462.5" width="1.3" height="1.3" fill="#fff500"/><rect x="281.3" y="471.1" width="1.4" height="1.4" fill="#880000"/><rect x="199.3" y="461.9" width="1.1" height="1.1" fill="#fff500"/><rect x="232.4" y="462.9" width="1.4" height="1.4" fill="#880000"/><rect x="157.8" y="482.0" width="1.8" height="1.8" fill="#e00000"/><rect x="167.3" y="479.2" width="1.3" height="1.3" fill="#ffcc00"/><rect x="248.0" y="462.4" width="1.2" height="1.2" fill="#880000"/><rect x="277.0" y="470.4" width="1.6" height="1.6" fill="#ffcc00"/><rect x="262.5" y="470.4" width="1.7" height="1.7" fill="#880000"/><rect x="177.0" y="466.3" width="1.8" height="1.8" fill="#880000"/><rect x="193.1" y="463.9" width="1.3" height="1.3" fill="#880000"/><rect x="154.5" y="480.7" width="1.2" height="1.2" fill="#880000"/><rect x="259.9" y="468.1" width="1.6" height="1.6" fill="#e00000"/><rect x="222.0" y="461.5" width="1.1" height="1.1" fill="#ffcc00"/><rect x="156.3" y="484.7" width="1.6" height="1.6" fill="#880000"/><rect x="155.5" y="482.3" width="1.3" height="1.3" fill="#880000"/><rect x="280.1" y="466.3" width="1.4" height="1.4" fill="#880000"/><rect x="197.7" y="461.8" width="1.3" height="1.3" fill="#880000"/><rect x="185.4" y="467.0" width="1.3" height="1.3" fill="#ffcc00"/><rect x="180.8" y="464.9" width="1.7" height="1.7" fill="#880000"/><rect x="264.1" y="469.5" width="1.6" height="1.6" fill="#e00000"/><rect x="175.9" y="468.1" width="1.1" height="1.1" fill="#880000"/><rect x="223.4" y="461.7" width="1.6" height="1.6" fill="#880000"/><rect x="218.8" y="460.9" width="1.4" height="1.4" fill="#880000"/><rect x="258.0" y="467.8" width="1.4" height="1.4" fill="#880000"/><rect x="250.2" y="463.9" width="1.3" height="1.3" fill="#880000"/><rect x="189.6" y="464.7" width="1.8" height="1.8" fill="#ff6e00"/><rect x="186.4" y="467.6" width="1.6" height="1.6" fill="#880000"/>
<rect x="140.9" y="503.0" width="1.1" height="1.1" fill="#880000"/><rect x="140.7" y="529.0" width="1.7" height="1.7" fill="#880000"/><rect x="148.5" y="491.7" width="1.1" height="1.1" fill="#880000"/><rect x="160.7" y="482.5" width="1.8" height="1.8" fill="#880000"/><rect x="138.8" y="539.2" width="1.5" height="1.5" fill="#880000"/><rect x="135.9" y="511.5" width="1.5" height="1.5" fill="#880000"/><rect x="156.0" y="484.6" width="1.5" height="1.5" fill="#880000"/><rect x="139.9" y="532.3" width="1.5" height="1.5" fill="#880000"/><rect x="139.2" y="540.5" width="1.5" height="1.5" fill="#880000"/><rect x="139.6" y="538.0" width="1.6" height="1.6" fill="#880000"/><rect x="136.9" y="520.7" width="1.3" height="1.3" fill="#880000"/><rect x="129.9" y="557.5" width="1.1" height="1.1" fill="#880000"/><rect x="140.9" y="499.3" width="1.6" height="1.6" fill="#880000"/><rect x="139.2" y="496.4" width="1.4" height="1.4" fill="#880000"/><rect x="152.2" y="486.8" width="1.4" height="1.4" fill="#880000"/><rect x="130.8" y="578.5" width="1.3" height="1.3" fill="#880000"/><rect x="139.6" y="506.2" width="1.1" height="1.1" fill="#880000"/><rect x="160.9" y="483.5" width="1.1" height="1.1" fill="#880000"/><rect x="134.9" y="546.9" width="1.3" height="1.3" fill="#880000"/><rect x="138.0" y="510.2" width="1.8" height="1.8" fill="#880000"/><rect x="138.9" y="506.8" width="1.1" height="1.1" fill="#880000"/><rect x="132.6" y="554.6" width="1.4" height="1.4" fill="#880000"/><rect x="129.5" y="572.9" width="1.4" height="1.4" fill="#880000"/><rect x="138.2" y="531.1" width="1.7" height="1.7" fill="#880000"/><rect x="142.7" y="497.2" width="1.6" height="1.6" fill="#880000"/><rect x="140.2" y="510.0" width="1.2" height="1.2" fill="#880000"/><rect x="146.5" y="492.7" width="1.7" height="1.7" fill="#880000"/><rect x="150.9" y="488.4" width="1.4" height="1.4" fill="#880000"/><rect x="138.8" y="508.3" width="1.6" height="1.6" fill="#880000"/><rect x="139.4" y="526.9" width="1.4" height="1.4" fill="#880000"/><rect x="126.7" y="567.2" width="1.4" height="1.4" fill="#880000"/><rect x="139.2" y="511.6" width="1.1" height="1.1" fill="#880000"/><rect x="163.8" y="482.2" width="1.1" height="1.1" fill="#880000"/><rect x="141.7" y="536.5" width="1.5" height="1.5" fill="#880000"/><rect x="128.8" y="576.6" width="1.7" height="1.7" fill="#880000"/><rect x="140.8" y="537.8" width="1.8" height="1.8" fill="#880000"/><rect x="140.5" y="536.1" width="1.7" height="1.7" fill="#880000"/><rect x="129.7" y="582.3" width="1.3" height="1.3" fill="#880000"/><rect x="154.2" y="483.6" width="1.4" height="1.4" fill="#880000"/><rect x="135.8" y="545.9" width="1.8" height="1.8" fill="#880000"/><rect x="141.2" y="528.0" width="1.6" height="1.6" fill="#880000"/><rect x="140.4" y="498.6" width="1.6" height="1.6" fill="#880000"/><rect x="144.1" y="495.7" width="1.3" height="1.3" fill="#880000"/><rect x="146.5" y="491.1" width="1.5" height="1.5" fill="#880000"/><rect x="138.3" y="536.7" width="1.7" height="1.7" fill="#880000"/><rect x="129.0" y="560.3" width="1.2" height="1.2" fill="#880000"/><rect x="138.2" y="523.8" width="1.7" height="1.7" fill="#880000"/><rect x="140.5" y="521.2" width="1.4" height="1.4" fill="#880000"/><rect x="126.5" y="575.5" width="1.1" height="1.1" fill="#880000"/><rect x="159.6" y="483.1" width="1.2" height="1.2" fill="#880000"/><rect x="137.2" y="537.8" width="1.4" height="1.4" fill="#880000"/><rect x="136.5" y="540.9" width="1.7" height="1.7" fill="#880000"/><rect x="157.6" y="484.2" width="1.4" height="1.4" fill="#880000"/><rect x="149.6" y="486.5" width="1.1" height="1.1" fill="#880000"/><rect x="128.3" y="576.5" width="1.4" height="1.4" fill="#880000"/><rect x="128.1" y="576.3" width="1.8" height="1.8" fill="#880000"/><rect x="167.3" y="478.4" width="1.7" height="1.7" fill="#880000"/><rect x="153.7" y="483.1" width="1.6" height="1.6" fill="#880000"/><rect x="139.3" y="506.2" width="1.1" height="1.1" fill="#880000"/><rect x="129.4" y="557.9" width="1.5" height="1.5" fill="#880000"/>
<rect x="636.3" y="241.1" width="1.2" height="1.2" fill="#880000"/><rect x="637.4" y="221.6" width="1.4" height="1.4" fill="#880000"/><rect x="634.5" y="218.6" width="1.4" height="1.4" fill="#880000"/><rect x="635.3" y="236.5" width="1.4" height="1.4" fill="#880000"/><rect x="596.8" y="242.3" width="1.4" height="1.4" fill="#880000"/><rect x="577.2" y="249.6" width="1.1" height="1.1" fill="#880000"/><rect x="590.2" y="246.4" width="1.1" height="1.1" fill="#880000"/><rect x="638.5" y="223.1" width="1.4" height="1.4" fill="#880000"/><rect x="610.8" y="238.6" width="1.5" height="1.5" fill="#880000"/><rect x="624.9" y="242.4" width="1.2" height="1.2" fill="#880000"/>
<rect x="729.0" y="171.4" width="1.4" height="1.4" fill="#0000dd"/><rect x="650.1" y="198.2" width="1.8" height="1.8" fill="#0000a0"/><rect x="689.4" y="187.2" width="1.8" height="1.8" fill="#ffffff"/><rect x="746.9" y="163.8" width="1.2" height="1.2" fill="#0000a0"/><rect x="658.0" y="199.9" width="1.7" height="1.7" fill="#ffffff"/><rect x="697.1" y="181.0" width="1.6" height="1.6" fill="#0000a0"/><rect x="745.2" y="168.2" width="1.7" height="1.7" fill="#0000a0"/><rect x="671.6" y="188.1" width="1.3" height="1.3" fill="#ffffff"/><rect x="655.5" y="201.6" width="1.5" height="1.5" fill="#ffffff"/><rect x="684.6" y="189.2" width="1.2" height="1.2" fill="#0000a0"/><rect x="672.7" y="192.1" width="1.2" height="1.2" fill="#ffffff"/><rect x="724.8" y="172.0" width="1.8" height="1.8" fill="#0000dd"/><rect x="661.0" y="197.0" width="1.2" height="1.2" fill="#0000dd"/><rect x="683.5" y="188.0" width="1.3" height="1.3" fill="#0000a0"/><rect x="642.9" y="206.4" width="1.4" height="1.4" fill="#0000a0"/><rect x="641.8" y="210.9" width="2.0" height="2.0" fill="#ffffff"/><rect x="705.4" y="183.2" width="1.3" height="1.3" fill="#ffffff"/><rect x="665.0" y="191.5" width="1.5" height="1.5" fill="#ffffff"/><rect x="684.6" y="186.5" width="1.6" height="1.6" fill="#ffffff"/><rect x="709.6" y="172.2" width="1.3" height="1.3" fill="#ffffff"/><rect x="728.7" y="173.5" width="1.4" height="1.4" fill="#ffffff"/><rect x="678.9" y="189.3" width="1.3" height="1.3" fill="#ffffff"/><rect x="645.8" y="209.4" width="1.4" height="1.4" fill="#0000a0"/><rect x="669.6" y="192.0" width="1.9" height="1.9" fill="#0000dd"/><rect x="700.5" y="179.4" width="1.6" height="1.6" fill="#0000dd"/><rect x="648.4" y="204.8" width="1.7" height="1.7" fill="#0000a0"/><rect x="644.6" y="210.5" width="1.2" height="1.2" fill="#d3d3d3"/><rect x="655.6" y="198.1" width="1.2" height="1.2" fill="#0000a0"/><rect x="713.5" y="172.7" width="1.4" height="1.4" fill="#0000dd"/><rect x="701.2" y="184.6" width="1.9" height="1.9" fill="#ffffff"/><rect x="675.0" y="190.9" width="1.7" height="1.7" fill="#ffffff"/><rect x="693.9" y="187.3" width="1.6" height="1.6" fill="#0000dd"/><rect x="665.4" y="196.8" width="1.9" height="1.9" fill="#ffffff"/><rect x="707.5" y="181.7" width="1.6" height="1.6" fill="#ffffff"/><rect x="699.9" y="183.5" width="1.4" height="1.4" fill="#0000a0"/><rect x="687.4" y="189.4" width="1.1" height="1.1" fill="#0000dd"/><rect x="668.7" y="190.3" width="1.3" height="1.3" fill="#ffffff"/><rect x="711.1" y="176.8" width="1.5" height="1.5" fill="#d3d3d3"/><rect x="669.7" y="191.9" width="1.2" height="1.2" fill="#ffffff"/><rect x="738.1" y="171.1" width="1.7" height="1.7" fill="#ffffff"/><rect x="659.0" y="199.8" width="1.7" height="1.7" fill="#ffffff"/><rect x="733.9" y="170.8" width="1.5" height="1.5" fill="#ffffff"/><rect x="647.6" y="204.8" width="1.3" height="1.3" fill="#ffffff"/><rect x="704.8" y="179.8" width="1.8" height="1.8" fill="#d3d3d3"/><rect x="677.8" y="188.1" width="1.8" height="1.8" fill="#0000dd"/><rect x="658.4" y="200.0" width="1.8" height="1.8" fill="#0000a0"/><rect x="703.2" y="182.1" width="1.3" height="1.3" fill="#0000dd"/><rect x="640.9" y="211.7" width="1.2" height="1.2" fill="#0000dd"/><rect x="704.5" y="182.5" width="1.8" height="1.8" fill="#ffffff"/><rect x="656.7" y="199.7" width="1.2" height="1.2" fill="#d3d3d3"/><rect x="678.3" y="188.3" width="1.4" height="1.4" fill="#0000dd"/><rect x="689.3" y="188.5" width="1.6" height="1.6" fill="#d3d3d3"/><rect x="683.1" y="189.6" width="1.9" height="1.9" fill="#ffffff"/><rect x="709.0" y="179.8" width="1.2" height="1.2" fill="#0000a0"/><rect x="740.4" y="170.5" width="1.5" height="1.5" fill="#0000a0"/><rect x="641.9" y="209.7" width="1.5" height="1.5" fill="#0000dd"/><rect x="689.3" y="188.3" width="1.2" height="1.2" fill="#0000a0"/><rect x="745.9" y="166.2" width="1.3" height="1.3" fill="#ffffff"/><rect x="667.0" y="192.3" width="1.5" height="1.5" fill="#0000dd"/><rect x="657.4" y="199.6" width="1.5" height="1.5" fill="#ffffff"/><rect x="673.0" y="186.5" width="1.2" height="1.2" fill="#ffffff"/><rect x="728.1" y="173.2" width="1.9" height="1.9" fill="#d3d3d3"/><rect x="658.7" y="197.3" width="1.7" height="1.7" fill="#d3d3d3"/><rect x="649.8" y="201.8" width="1.3" height="1.3" fill="#0000dd"/><rect x="693.3" y="186.3" width="1.6" height="1.6" fill="#ffffff"/><rect x="652.6" y="197.6" width="1.3" height="1.3" fill="#ffffff"/><rect x="724.2" y="170.8" width="1.2" height="1.2" fill="#0000dd"/><rect x="684.2" y="189.7" width="1.6" height="1.6" fill="#ffffff"/><rect x="704.8" y="179.4" width="2.0" height="2.0" fill="#ffffff"/><rect x="729.3" y="172.9" width="1.4" height="1.4" fill="#0000dd"/><rect x="673.8" y="189.0" width="1.2" height="1.2" fill="#ffffff"/><rect x="745.5" y="167.0" width="1.9" height="1.9" fill="#ffffff"/><rect x="690.6" y="188.4" width="1.4" height="1.4" fill="#0000dd"/><rect x="703.9" y="178.3" width="1.5" height="1.5" fill="#0000a0"/><rect x="695.7" y="184.7" width="1.3" height="1.3" fill="#0000dd"/><rect x="705.0" y="182.3" width="1.9" height="1.9" fill="#ffffff"/><rect x="722.9" y="174.2" width="1.9" height="1.9" fill="#0000dd"/><rect x="668.4" y="195.8" width="1.6" height="1.6" fill="#d3d3d3"/><rect x="703.5" y="182.7" width="1.3" height="1.3" fill="#0000a0"/><rect x="747.9" y="166.2" width="1.9" height="1.9" fill="#ffffff"/><rect x="726.2" y="173.8" width="1.4" height="1.4" fill="#ffffff"/><rect x="732.2" y="169.4" width="1.6" height="1.6" fill="#0000a0"/><rect x="743.4" y="169.1" width="1.9" height="1.9" fill="#0000a0"/><rect x="719.0" y="173.6" width="1.9" height="1.9" fill="#d3d3d3"/><rect x="649.6" y="206.2" width="1.2" height="1.2" fill="#d3d3d3"/><rect x="698.0" y="182.4" width="1.3" height="1.3" fill="#0000dd"/><rect x="741.3" y="166.2" width="1.6" height="1.6" fill="#d3d3d3"/><rect x="691.9" y="185.6" width="1.4" height="1.4" fill="#0000dd"/><rect x="716.2" y="175.4" width="1.7" height="1.7" fill="#ffffff"/><rect x="747.7" y="164.8" width="1.2" height="1.2" fill="#0000dd"/><rect x="689.4" y="186.3" width="1.4" height="1.4" fill="#ffffff"/><rect x="709.4" y="179.6" width="1.5" height="1.5" fill="#d3d3d3"/><rect x="670.4" y="192.5" width="1.1" height="1.1" fill="#ffffff"/><rect x="720.9" y="174.7" width="1.5" height="1.5" fill="#ffffff"/><rect x="668.8" y="192.3" width="1.5" height="1.5" fill="#d3d3d3"/><rect x="711.4" y="176.8" width="1.2" height="1.2" fill="#d3d3d3"/><rect x="708.1" y="178.7" width="1.7" height="1.7" fill="#0000dd"/><rect x="746.8" y="167.8" width="1.3" height="1.3" fill="#0000a0"/><rect x="650.0" y="200.2" width="1.7" height="1.7" fill="#ffffff"/><rect x="722.3" y="171.8" width="1.6" height="1.6" fill="#d3d3d3"/><rect x="643.7" y="204.6" width="1.3" height="1.3" fill="#0000a0"/><rect x="695.3" y="184.7" width="1.1" height="1.1" fill="#ffffff"/><rect x="707.9" y="178.6" width="1.1" height="1.1" fill="#d3d3d3"/><rect x="704.8" y="179.4" width="1.9" height="1.9" fill="#ffffff"/><rect x="686.0" y="185.6" width="1.3" height="1.3" fill="#ffffff"/><rect x="689.5" y="188.3" width="1.7" height="1.7" fill="#0000a0"/><rect x="649.0" y="205.4" width="1.3" height="1.3" fill="#ffffff"/><rect x="678.3" y="188.9" width="1.8" height="1.8" fill="#0000dd"/><rect x="708.6" y="180.5" width="1.9" height="1.9" fill="#ffffff"/><rect x="640.7" y="209.8" width="1.7" height="1.7" fill="#0000dd"/><rect x="663.9" y="197.3" width="1.6" height="1.6" fill="#d3d3d3"/><rect x="647.4" y="206.0" width="1.3" height="1.3" fill="#ffffff"/><rect x="672.0" y="190.9" width="1.8" height="1.8" fill="#0000a0"/><rect x="662.1" y="195.9" width="1.3" height="1.3" fill="#ffffff"/><rect x="654.4" y="202.0" width="1.3" height="1.3" fill="#0000a0"/><rect x="686.1" y="188.4" width="1.8" height="1.8" fill="#ffffff"/><rect x="709.6" y="177.2" width="1.7" height="1.7" fill="#ffffff"/><rect x="663.4" y="192.2" width="1.2" height="1.2" fill="#0000a0"/><rect x="744.7" y="165.6" width="1.4" height="1.4" fill="#d3d3d3"/><rect x="653.4" y="201.4" width="1.3" height="1.3" fill="#0000a0"/><rect x="663.4" y="193.7" width="1.7" height="1.7" fill="#0000a0"/><rect x="744.9" y="164.2" width="1.5" height="1.5" fill="#ffffff"/><rect x="696.0" y="186.2" width="1.5" height="1.5" fill="#0000dd"/><rect x="666.6" y="196.3" width="1.8" height="1.8" fill="#ffffff"/><rect x="706.2" y="181.9" width="1.8" height="1.8" fill="#0000a0"/><rect x="645.1" y="209.5" width="1.9" height="1.9" fill="#ffffff"/><rect x="740.2" y="170.1" width="1.2" height="1.2" fill="#0000dd"/><rect x="660.9" y="193.6" width="1.7" height="1.7" fill="#ffffff"/><rect x="713.2" y="176.6" width="1.2" height="1.2" fill="#ffffff"/><rect x="660.0" y="197.6" width="1.7" height="1.7" fill="#ffffff"/><rect x="708.9" y="176.7" width="1.1" height="1.1" fill="#ffffff"/><rect x="652.4" y="202.5" width="1.7" height="1.7" fill="#ffffff"/><rect x="702.0" y="184.4" width="1.7" height="1.7" fill="#d3d3d3"/><rect x="746.1" y="165.5" width="1.7" height="1.7" fill="#d3d3d3"/><rect x="692.6" y="186.4" width="1.4" height="1.4" fill="#d3d3d3"/><rect x="674.5" y="188.7" width="1.2" height="1.2" fill="#ffffff"/><rect x="703.0" y="182.8" width="1.5" height="1.5" fill="#0000dd"/><rect x="689.9" y="188.8" width="1.1" height="1.1" fill="#ffffff"/><rect x="674.4" y="189.9" width="1.8" height="1.8" fill="#ffffff"/><rect x="645.5" y="205.3" width="1.5" height="1.5" fill="#ffffff"/>
<rect x="737.0" y="204.3" width="1.4" height="1.4" fill="#ffffff"/><rect x="788.3" y="179.0" width="1.4" height="1.4" fill="#d3d3d3"/><rect x="799.1" y="175.3" width="1.2" height="1.2" fill="#ffffff"/><rect x="830.0" y="162.8" width="1.6" height="1.6" fill="#ffffff"/><rect x="762.3" y="186.1" width="1.6" height="1.6" fill="#d3d3d3"/><rect x="775.0" y="185.7" width="1.2" height="1.2" fill="#ffffff"/><rect x="815.1" y="168.6" width="1.3" height="1.3" fill="#d3d3d3"/><rect x="757.9" y="188.5" width="1.0" height="1.0" fill="#d3d3d3"/><rect x="801.7" y="176.5" width="1.6" height="1.6" fill="#ffffff"/><rect x="802.7" y="174.5" width="1.3" height="1.3" fill="#d3d3d3"/><rect x="807.0" y="175.1" width="1.1" height="1.1" fill="#d3d3d3"/><rect x="830.8" y="165.2" width="1.3" height="1.3" fill="#ffffff"/><rect x="809.9" y="173.8" width="1.2" height="1.2" fill="#ffffff"/><rect x="740.7" y="203.1" width="1.2" height="1.2" fill="#d3d3d3"/><rect x="774.2" y="185.3" width="1.4" height="1.4" fill="#d3d3d3"/><rect x="779.8" y="181.9" width="1.3" height="1.3" fill="#d3d3d3"/><rect x="826.3" y="166.6" width="1.3" height="1.3" fill="#ffffff"/><rect x="792.9" y="176.7" width="1.3" height="1.3" fill="#ffffff"/><rect x="794.0" y="179.7" width="1.1" height="1.1" fill="#ffffff"/><rect x="778.1" y="184.0" width="1.6" height="1.6" fill="#ffffff"/><rect x="768.9" y="185.8" width="1.3" height="1.3" fill="#ffffff"/><rect x="752.4" y="194.0" width="1.4" height="1.4" fill="#ffffff"/><rect x="825.3" y="167.3" width="1.6" height="1.6" fill="#ffffff"/><rect x="740.9" y="202.1" width="1.3" height="1.3" fill="#ffffff"/><rect x="780.3" y="182.4" width="1.5" height="1.5" fill="#d3d3d3"/><rect x="785.4" y="179.8" width="1.5" height="1.5" fill="#d3d3d3"/><rect x="737.5" y="204.3" width="1.1" height="1.1" fill="#d3d3d3"/><rect x="823.4" y="168.1" width="1.4" height="1.4" fill="#ffffff"/><rect x="800.5" y="177.5" width="1.4" height="1.4" fill="#d3d3d3"/><rect x="762.1" y="189.4" width="1.7" height="1.7" fill="#ffffff"/><rect x="799.3" y="178.1" width="1.3" height="1.3" fill="#ffffff"/><rect x="784.9" y="182.3" width="1.2" height="1.2" fill="#ffffff"/><rect x="825.6" y="166.7" width="1.2" height="1.2" fill="#ffffff"/><rect x="822.7" y="165.3" width="1.6" height="1.6" fill="#d3d3d3"/><rect x="832.2" y="165.5" width="1.0" height="1.0" fill="#d3d3d3"/><rect x="814.7" y="170.9" width="1.0" height="1.0" fill="#ffffff"/><rect x="763.2" y="188.6" width="1.1" height="1.1" fill="#ffffff"/><rect x="811.9" y="172.6" width="1.6" height="1.6" fill="#ffffff"/><rect x="776.2" y="185.3" width="1.2" height="1.2" fill="#d3d3d3"/><rect x="833.3" y="165.7" width="1.0" height="1.0" fill="#ffffff"/><rect x="784.9" y="182.3" width="1.1" height="1.1" fill="#ffffff"/><rect x="751.4" y="195.7" width="1.1" height="1.1" fill="#d3d3d3"/><rect x="779.8" y="184.1" width="1.1" height="1.1" fill="#ffffff"/><rect x="735.2" y="203.2" width="1.2" height="1.2" fill="#d3d3d3"/><rect x="768.2" y="186.6" width="1.4" height="1.4" fill="#d3d3d3"/><rect x="797.5" y="176.2" width="1.1" height="1.1" fill="#d3d3d3"/><rect x="808.6" y="173.3" width="1.6" height="1.6" fill="#ffffff"/><rect x="781.5" y="181.3" width="1.7" height="1.7" fill="#ffffff"/><rect x="816.0" y="170.4" width="1.2" height="1.2" fill="#ffffff"/><rect x="766.8" y="187.5" width="1.0" height="1.0" fill="#ffffff"/><rect x="741.1" y="202.4" width="1.3" height="1.3" fill="#ffffff"/><rect x="735.9" y="204.7" width="1.2" height="1.2" fill="#d3d3d3"/><rect x="737.6" y="204.1" width="1.5" height="1.5" fill="#ffffff"/><rect x="833.4" y="162.6" width="1.0" height="1.0" fill="#d3d3d3"/><rect x="768.9" y="186.8" width="1.0" height="1.0" fill="#d3d3d3"/><rect x="816.8" y="169.3" width="1.6" height="1.6" fill="#ffffff"/><rect x="792.3" y="178.5" width="1.4" height="1.4" fill="#d3d3d3"/><rect x="802.1" y="175.5" width="1.0" height="1.0" fill="#d3d3d3"/><rect x="811.3" y="172.2" width="1.4" height="1.4" fill="#ffffff"/><rect x="835.8" y="164.6" width="1.6" height="1.6" fill="#ffffff"/>
<polygon fill="#ff1a00" points="758.8,170.3 766.0,170.6 773.8,170.3 770.0,172.5 762.0,174.4 758.8,173.5"/>
<polygon fill="#ff6a00" points="752.0,166.8 754.0,164.0 756.0,162.7 756.5,165.0 754.0,166.8"/>
<polygon fill="#00eeff" points="550.1,279.7 552.5,283.2 554.8,285.0 559.5,286.7 561.3,288.5 559.5,292.0 556.0,291.4 553.1,288.5 550.7,283.8"/>
<polygon fill="#aaff55" points="539.6,280.3 534.3,286.7 532.0,292.6 532.0,298.4 534.3,303.1 535.5,307.8 540.0,308.0 542.0,306.6 539.6,303.1 537.3,298.4 536.1,292.6 538.4,286.7 542.0,280.3"/>
<polygon fill="#aaff55" points="517.0,300.5 520.0,300.0 524.0,303.0 530.0,305.0 535.0,307.0 534.0,309.0 528.0,307.5 522.0,305.5 518.0,303.0"/>
<polygon fill="#55ffaa" points="535.5,310.1 541.4,309.6 546.6,310.7 545.5,313.1 543.1,316.0 541.4,319.5 540.8,325.4 542.5,327.7 539.6,328.9 535.5,326.6 533.7,321.9 534.9,316.0 534.9,312.5"/>
<polyline fill="none" stroke="#fff" stroke-width="1.2" points="524,309 530,313 534,316"/>
<polyline fill="none" stroke="#fff" stroke-width="1.2" points="525,318 530,321 534,324"/>
<polyline fill="none" stroke="#fff" stroke-width="1" points="523,323 528,325 533,327"/>
<polyline fill="none" stroke="#fff" stroke-width="1" points="559.5,292.6 558.4,299.6 556,305.5 550.1,311.3 546,317.2 544.3,321.9 542.5,326"/>
<polygon fill="#aaff55" points="536.0,350.0 543.0,345.0 549.0,352.0 550.0,358.0 545.0,360.5 540.0,362.0 537.0,357.0"/>
<polygon fill="#fff200" points="538.0,352.0 542.0,350.0 543.0,354.0 540.0,355.0"/>
<polygon fill="#ffe600" points="616.2,802.8 623.8,800.3 631.4,807.9 623.8,813.0 625.0,823.1 631.4,833.3 634.0,840.9 631.4,848.5 621.2,848.5 613.6,838.4 616.2,830.8 622.5,820.6 621.2,813.0 617.4,807.9"/>
<polygon fill="#ffcc00" points="617.0,801.0 626.0,799.0 633.0,803.0 628.0,808.0 622.0,806.0"/>
<polygon fill="#d9ff26" points="790.0,822.0 800.0,821.0 808.0,820.5 812.0,822.0 813.0,828.0 813.0,833.0 804.0,834.0 795.0,833.0 790.0,826.0"/>
<polygon fill="#80ff80" points="788.0,822.5 792.0,822.5 792.7,827.0 789.0,827.0"/>
<polygon fill="#fff200" points="815.2,832.3 823.0,830.4 830.8,835.2 841.0,846.0 841.0,861.0 833.0,861.0 826.0,848.0 821.0,840.1"/>
<polygon fill="#ffc000" points="804.4,831.3 810.0,831.0 815.2,833.0 815.0,836.2 806.0,835.0"/>
<polygon fill="#ff9900" points="825.0,848.0 829.0,850.0 833.0,856.0 834.0,861.0 828.0,861.0 825.0,853.0"/>
<polygon fill="#880000" points="434.6,518.2 441.0,513.1 448.6,508.0 456.2,508.0 463.8,513.1 465.1,523.3 463.8,536.0 456.2,538.5 443.5,536.0 435.9,530.9 433.4,523.3"/>
<polygon fill="#880000" points="444.8,477.5 449.9,482.6 456.2,497.8 461.3,508.0 455.0,509.3 451.1,497.8 446.6,487.7"/>
<polygon fill="#ff4500" points="446.5,536.0 452.0,535.7 457.4,536.0 456.0,543.0 452.0,546.6 449.0,544.0 446.5,540.0"/>
<polygon fill="#fff200" points="230.0,460.0 236.0,459.5 238.0,463.0 236.0,468.0 230.0,468.5"/>
<polygon fill="#ffcc00" points="262.0,452.0 267.0,451.5 269.0,455.0 265.0,457.0"/>
<polygon fill="#fff200" points="266.0,458.0 272.0,457.0 275.0,461.0 271.0,463.0 267.0,462.0"/>
<polygon fill="#ffcc00" points="270.0,464.0 276.0,463.0 279.0,467.0 274.0,469.0"/>
<polygon fill="#fff200" points="259.0,466.0 263.0,466.0 264.0,470.0 260.0,470.0"/>
<polygon fill="#880000" points="245.6,439.4 250.3,441.7 253.4,445.6 255.8,450.3 255.0,455.0 252.7,458.9 248.8,459.7 244.1,456.6 241.7,451.9 240.9,445.6 242.5,442.5"/>
<polygon fill="#e00000" points="251.9,455.0 255.8,455.8 259.7,459.7 264.4,463.6 263.6,466.7 259.7,466.7 255.0,463.6 252.7,460.5"/>
<polygon fill="#ff7000" points="255.0,464.4 260.0,464.0 264.4,466.0 263.0,469.0 258.0,469.0 255.5,467.0"/>
<polygon fill="#ff7000" points="278.4,461.0 283.0,460.5 286.3,463.0 284.0,466.0 280.0,465.5"/>
<rect x="263.5" y="462.6" width="1.3" height="1.3" fill="#aaff55"/><rect x="263.5" y="470.2" width="1.3" height="1.3" fill="#ffcc00"/><rect x="249.6" y="461.3" width="1.3" height="1.3" fill="#ffcc00"/><rect x="244.9" y="455.9" width="1.3" height="1.3" fill="#ffffff"/><rect x="268.0" y="471.1" width="1.3" height="1.3" fill="#ffffff"/><rect x="271.0" y="458.3" width="1.3" height="1.3" fill="#aaff55"/><rect x="274.0" y="464.0" width="1.3" height="1.3" fill="#ffcc00"/><rect x="272.4" y="469.6" width="1.3" height="1.3" fill="#ffffff"/><rect x="243.1" y="452.9" width="1.3" height="1.3" fill="#ffcc00"/><rect x="271.2" y="468.2" width="1.3" height="1.3" fill="#fff200"/><rect x="262.9" y="469.9" width="1.3" height="1.3" fill="#ff9a00"/><rect x="252.1" y="455.6" width="1.3" height="1.3" fill="#ffffff"/><rect x="274.4" y="459.9" width="1.3" height="1.3" fill="#880000"/><rect x="261.2" y="462.3" width="1.3" height="1.3" fill="#ffffff"/><rect x="276.8" y="456.2" width="1.3" height="1.3" fill="#ffcc00"/><rect x="266.7" y="448.8" width="1.3" height="1.3" fill="#ffffff"/><rect x="260.8" y="470.0" width="1.3" height="1.3" fill="#fff200"/><rect x="243.5" y="448.4" width="1.3" height="1.3" fill="#ffffff"/><rect x="242.7" y="457.8" width="1.3" height="1.3" fill="#fff200"/><rect x="261.8" y="462.7" width="1.3" height="1.3" fill="#ffcc00"/><rect x="280.5" y="455.0" width="1.3" height="1.3" fill="#ffffff"/><rect x="256.2" y="448.4" width="1.3" height="1.3" fill="#fff200"/><rect x="279.4" y="451.1" width="1.3" height="1.3" fill="#ffcc00"/><rect x="276.8" y="448.3" width="1.3" height="1.3" fill="#aaff55"/><rect x="281.4" y="452.6" width="1.3" height="1.3" fill="#ff9a00"/><rect x="249.8" y="461.2" width="1.3" height="1.3" fill="#ffcc00"/><rect x="261.8" y="458.0" width="1.3" height="1.3" fill="#fff200"/><rect x="261.9" y="453.5" width="1.3" height="1.3" fill="#880000"/><rect x="284.9" y="473.3" width="1.3" height="1.3" fill="#880000"/><rect x="291.9" y="448.5" width="1.3" height="1.3" fill="#ffcc00"/><rect x="260.5" y="470.2" width="1.3" height="1.3" fill="#ffffff"/><rect x="242.2" y="451.8" width="1.3" height="1.3" fill="#aaff55"/><rect x="253.4" y="468.1" width="1.3" height="1.3" fill="#fff200"/><rect x="283.2" y="458.0" width="1.3" height="1.3" fill="#ffffff"/><rect x="244.7" y="463.2" width="1.3" height="1.3" fill="#ffcc00"/><rect x="240.8" y="457.6" width="1.3" height="1.3" fill="#aaff55"/><rect x="246.6" y="463.3" width="1.3" height="1.3" fill="#ffcc00"/><rect x="285.1" y="452.8" width="1.3" height="1.3" fill="#ffcc00"/><rect x="256.2" y="453.9" width="1.3" height="1.3" fill="#ffcc00"/><rect x="277.7" y="452.1" width="1.3" height="1.3" fill="#ff9a00"/><rect x="285.9" y="463.7" width="1.3" height="1.3" fill="#fff200"/><rect x="242.5" y="450.8" width="1.3" height="1.3" fill="#ff9a00"/><rect x="290.1" y="454.2" width="1.3" height="1.3" fill="#fff200"/><rect x="271.0" y="455.6" width="1.3" height="1.3" fill="#ffcc00"/><rect x="288.3" y="473.4" width="1.3" height="1.3" fill="#ffcc00"/><rect x="251.9" y="462.5" width="1.3" height="1.3" fill="#ffffff"/><rect x="250.6" y="448.4" width="1.3" height="1.3" fill="#880000"/><rect x="261.4" y="454.5" width="1.3" height="1.3" fill="#ffffff"/><rect x="249.2" y="457.6" width="1.3" height="1.3" fill="#ffcc00"/><rect x="244.8" y="451.6" width="1.3" height="1.3" fill="#aaff55"/><rect x="291.0" y="465.1" width="1.3" height="1.3" fill="#ff9a00"/><rect x="270.4" y="451.6" width="1.3" height="1.3" fill="#ffffff"/><rect x="288.0" y="460.3" width="1.3" height="1.3" fill="#fff200"/><rect x="276.5" y="473.0" width="1.3" height="1.3" fill="#ffffff"/><rect x="271.1" y="449.9" width="1.3" height="1.3" fill="#ffffff"/><rect x="278.0" y="456.3" width="1.3" height="1.3" fill="#ffffff"/><rect x="243.9" y="462.2" width="1.3" height="1.3" fill="#ffffff"/><rect x="286.8" y="467.2" width="1.3" height="1.3" fill="#ffcc00"/><rect x="281.2" y="471.8" width="1.3" height="1.3" fill="#fff200"/><rect x="244.4" y="460.3" width="1.3" height="1.3" fill="#ffffff"/><rect x="285.3" y="458.8" width="1.3" height="1.3" fill="#ffffff"/><rect x="284.9" y="462.9" width="1.3" height="1.3" fill="#fff200"/><rect x="259.7" y="448.3" width="1.3" height="1.3" fill="#ffffff"/><rect x="244.2" y="464.6" width="1.3" height="1.3" fill="#880000"/><rect x="285.7" y="466.9" width="1.3" height="1.3" fill="#fff200"/><rect x="288.6" y="466.0" width="1.3" height="1.3" fill="#aaff55"/><rect x="262.9" y="469.8" width="1.3" height="1.3" fill="#ffffff"/><rect x="267.0" y="461.4" width="1.3" height="1.3" fill="#880000"/><rect x="271.3" y="460.5" width="1.3" height="1.3" fill="#ffcc00"/><rect x="289.8" y="450.9" width="1.3" height="1.3" fill="#aaff55"/><rect x="253.3" y="448.3" width="1.3" height="1.3" fill="#880000"/><rect x="247.4" y="463.9" width="1.3" height="1.3" fill="#ff9a00"/><rect x="274.3" y="459.5" width="1.3" height="1.3" fill="#ffcc00"/><rect x="257.0" y="465.3" width="1.3" height="1.3" fill="#ffcc00"/><rect x="273.0" y="468.9" width="1.3" height="1.3" fill="#ffcc00"/><rect x="285.8" y="458.0" width="1.3" height="1.3" fill="#fff200"/><rect x="250.9" y="451.5" width="1.3" height="1.3" fill="#fff200"/><rect x="283.5" y="470.1" width="1.3" height="1.3" fill="#ffffff"/><rect x="289.4" y="455.2" width="1.3" height="1.3" fill="#ffcc00"/><rect x="245.9" y="460.3" width="1.3" height="1.3" fill="#ffcc00"/><rect x="283.2" y="457.9" width="1.3" height="1.3" fill="#ff9a00"/><rect x="265.7" y="456.2" width="1.3" height="1.3" fill="#aaff55"/><rect x="256.7" y="469.5" width="1.3" height="1.3" fill="#880000"/><rect x="285.4" y="449.1" width="1.3" height="1.3" fill="#880000"/><rect x="269.7" y="456.0" width="1.3" height="1.3" fill="#ffffff"/><rect x="273.3" y="458.5" width="1.3" height="1.3" fill="#ffcc00"/><rect x="252.3" y="451.7" width="1.3" height="1.3" fill="#ffffff"/><rect x="291.2" y="451.0" width="1.3" height="1.3" fill="#ffffff"/><rect x="272.8" y="465.0" width="1.3" height="1.3" fill="#fff200"/><rect x="289.8" y="465.8" width="1.3" height="1.3" fill="#ffcc00"/><rect x="282.8" y="454.7" width="1.3" height="1.3" fill="#ffffff"/><rect x="279.3" y="461.9" width="1.3" height="1.3" fill="#ffffff"/><rect x="249.3" y="455.1" width="1.3" height="1.3" fill="#fff200"/><rect x="268.1" y="472.6" width="1.3" height="1.3" fill="#ff9a00"/><rect x="272.0" y="467.7" width="1.3" height="1.3" fill="#fff200"/><rect x="284.1" y="466.2" width="1.3" height="1.3" fill="#ffcc00"/><rect x="277.6" y="451.4" width="1.3" height="1.3" fill="#aaff55"/><rect x="240.3" y="462.3" width="1.3" height="1.3" fill="#ff9a00"/><rect x="281.4" y="472.6" width="1.3" height="1.3" fill="#aaff55"/><rect x="281.5" y="472.0" width="1.3" height="1.3" fill="#ffffff"/><rect x="291.0" y="473.4" width="1.3" height="1.3" fill="#ff9a00"/><rect x="290.8" y="472.2" width="1.3" height="1.3" fill="#880000"/><rect x="287.3" y="470.3" width="1.3" height="1.3" fill="#fff200"/><rect x="266.2" y="449.0" width="1.3" height="1.3" fill="#fff200"/><rect x="268.6" y="468.0" width="1.3" height="1.3" fill="#aaff55"/><rect x="287.8" y="453.7" width="1.3" height="1.3" fill="#ffffff"/><rect x="262.3" y="448.9" width="1.3" height="1.3" fill="#ff9a00"/><rect x="257.4" y="468.5" width="1.3" height="1.3" fill="#ffcc00"/><rect x="286.8" y="461.5" width="1.3" height="1.3" fill="#aaff55"/><rect x="289.2" y="460.8" width="1.3" height="1.3" fill="#ffffff"/><rect x="279.4" y="459.4" width="1.3" height="1.3" fill="#ff9a00"/><rect x="255.1" y="466.9" width="1.3" height="1.3" fill="#ffcc00"/><rect x="267.2" y="469.9" width="1.3" height="1.3" fill="#ff9a00"/><rect x="253.3" y="465.5" width="1.3" height="1.3" fill="#ffcc00"/><rect x="255.8" y="451.7" width="1.3" height="1.3" fill="#ff9a00"/><rect x="267.3" y="462.9" width="1.3" height="1.3" fill="#ffcc00"/><rect x="261.4" y="451.0" width="1.3" height="1.3" fill="#ffffff"/><rect x="271.5" y="448.7" width="1.3" height="1.3" fill="#ffffff"/><rect x="266.8" y="458.4" width="1.3" height="1.3" fill="#ffffff"/><rect x="265.5" y="466.0" width="1.3" height="1.3" fill="#ffffff"/><rect x="288.4" y="459.9" width="1.3" height="1.3" fill="#fff200"/><rect x="254.0" y="460.3" width="1.3" height="1.3" fill="#ffcc00"/><rect x="288.7" y="471.9" width="1.3" height="1.3" fill="#ff9a00"/><rect x="256.5" y="453.0" width="1.3" height="1.3" fill="#ffffff"/><rect x="288.1" y="451.4" width="1.3" height="1.3" fill="#ffffff"/><rect x="241.9" y="452.0" width="1.3" height="1.3" fill="#ffffff"/><rect x="275.7" y="456.4" width="1.3" height="1.3" fill="#fff200"/><rect x="252.7" y="461.0" width="1.3" height="1.3" fill="#aaff55"/><rect x="278.0" y="451.2" width="1.3" height="1.3" fill="#ff9a00"/><rect x="272.4" y="466.7" width="1.3" height="1.3" fill="#ff9a00"/><rect x="285.7" y="448.6" width="1.3" height="1.3" fill="#fff200"/><rect x="282.9" y="464.0" width="1.3" height="1.3" fill="#ff9a00"/><rect x="250.6" y="464.4" width="1.3" height="1.3" fill="#ffcc00"/><rect x="267.5" y="470.1" width="1.3" height="1.3" fill="#ffcc00"/><rect x="252.1" y="467.3" width="1.3" height="1.3" fill="#fff200"/><rect x="286.9" y="456.2" width="1.3" height="1.3" fill="#fff200"/><rect x="286.3" y="453.1" width="1.3" height="1.3" fill="#ffcc00"/><rect x="286.2" y="451.5" width="1.3" height="1.3" fill="#ffcc00"/><rect x="246.9" y="450.3" width="1.3" height="1.3" fill="#fff200"/><rect x="261.9" y="468.5" width="1.3" height="1.3" fill="#ffcc00"/><rect x="250.4" y="464.3" width="1.3" height="1.3" fill="#ffffff"/><rect x="245.0" y="462.8" width="1.3" height="1.3" fill="#fff200"/><rect x="287.4" y="473.2" width="1.3" height="1.3" fill="#ffffff"/><rect x="276.6" y="464.5" width="1.3" height="1.3" fill="#fff200"/><rect x="266.1" y="465.8" width="1.3" height="1.3" fill="#ffcc00"/><rect x="281.7" y="460.5" width="1.3" height="1.3" fill="#ffffff"/><rect x="241.9" y="462.3" width="1.3" height="1.3" fill="#ff9a00"/><rect x="287.1" y="460.5" width="1.3" height="1.3" fill="#ffcc00"/><rect x="249.6" y="453.3" width="1.3" height="1.3" fill="#ffcc00"/><rect x="291.5" y="472.1" width="1.3" height="1.3" fill="#ffffff"/><rect x="270.1" y="451.5" width="1.3" height="1.3" fill="#aaff55"/><rect x="244.0" y="450.5" width="1.3" height="1.3" fill="#fff200"/><rect x="264.3" y="461.4" width="1.3" height="1.3" fill="#fff200"/><rect x="250.9" y="457.7" width="1.3" height="1.3" fill="#ffffff"/><rect x="283.9" y="452.7" width="1.3" height="1.3" fill="#aaff55"/><rect x="258.7" y="457.6" width="1.3" height="1.3" fill="#ffcc00"/><rect x="271.5" y="450.5" width="1.3" height="1.3" fill="#ffffff"/><rect x="256.8" y="450.2" width="1.3" height="1.3" fill="#fff200"/><rect x="269.6" y="453.0" width="1.3" height="1.3" fill="#fff200"/><rect x="281.9" y="454.7" width="1.3" height="1.3" fill="#ffffff"/><rect x="278.7" y="468.2" width="1.3" height="1.3" fill="#fff200"/><rect x="246.9" y="456.6" width="1.3" height="1.3" fill="#ff9a00"/><rect x="276.1" y="467.9" width="1.3" height="1.3" fill="#ffcc00"/><rect x="261.1" y="466.8" width="1.3" height="1.3" fill="#ffffff"/><rect x="281.5" y="455.8" width="1.3" height="1.3" fill="#ffffff"/><rect x="240.6" y="457.2" width="1.3" height="1.3" fill="#ffffff"/><rect x="274.6" y="456.8" width="1.3" height="1.3" fill="#fff200"/><rect x="269.6" y="461.9" width="1.3" height="1.3" fill="#fff200"/><rect x="266.8" y="460.9" width="1.3" height="1.3" fill="#ffcc00"/><rect x="276.5" y="467.8" width="1.3" height="1.3" fill="#ffffff"/><rect x="246.0" y="450.8" width="1.3" height="1.3" fill="#ffcc00"/><rect x="253.3" y="458.4" width="1.3" height="1.3" fill="#ffffff"/><rect x="279.6" y="464.8" width="1.3" height="1.3" fill="#ffffff"/><rect x="245.1" y="454.5" width="1.3" height="1.3" fill="#fff200"/><rect x="268.6" y="461.2" width="1.3" height="1.3" fill="#ff9a00"/><rect x="273.2" y="469.0" width="1.3" height="1.3" fill="#ffffff"/><rect x="268.6" y="465.4" width="1.3" height="1.3" fill="#ffffff"/><rect x="284.5" y="462.1" width="1.3" height="1.3" fill="#ffffff"/><rect x="262.3" y="460.9" width="1.3" height="1.3" fill="#880000"/><rect x="267.4" y="463.5" width="1.3" height="1.3" fill="#fff200"/><rect x="267.6" y="460.6" width="1.3" height="1.3" fill="#880000"/><rect x="269.2" y="455.4" width="1.3" height="1.3" fill="#880000"/><rect x="270.5" y="464.5" width="1.3" height="1.3" fill="#fff200"/><rect x="279.2" y="458.1" width="1.3" height="1.3" fill="#fff200"/><rect x="278.9" y="449.3" width="1.3" height="1.3" fill="#fff200"/><rect x="262.3" y="460.4" width="1.3" height="1.3" fill="#ffcc00"/><rect x="242.4" y="450.6" width="1.3" height="1.3" fill="#aaff55"/><rect x="252.7" y="466.4" width="1.3" height="1.3" fill="#ffffff"/><rect x="272.5" y="459.8" width="1.3" height="1.3" fill="#ffcc00"/><rect x="284.8" y="457.3" width="1.3" height="1.3" fill="#ffcc00"/><rect x="246.5" y="459.5" width="1.3" height="1.3" fill="#fff200"/><rect x="263.7" y="454.8" width="1.3" height="1.3" fill="#fff200"/><rect x="258.9" y="467.3" width="1.3" height="1.3" fill="#ffcc00"/><rect x="289.5" y="467.1" width="1.3" height="1.3" fill="#ffcc00"/><rect x="265.0" y="461.1" width="1.3" height="1.3" fill="#880000"/><rect x="280.8" y="464.2" width="1.3" height="1.3" fill="#fff200"/><rect x="254.3" y="463.9" width="1.3" height="1.3" fill="#ffcc00"/><rect x="272.9" y="467.6" width="1.3" height="1.3" fill="#ffcc00"/><rect x="289.5" y="461.1" width="1.3" height="1.3" fill="#ffcc00"/><rect x="285.7" y="449.0" width="1.3" height="1.3" fill="#ffffff"/><rect x="240.5" y="454.7" width="1.3" height="1.3" fill="#ffffff"/><rect x="272.4" y="450.7" width="1.3" height="1.3" fill="#ff9a00"/><rect x="254.5" y="467.7" width="1.3" height="1.3" fill="#ffcc00"/><rect x="268.6" y="464.4" width="1.3" height="1.3" fill="#fff200"/><rect x="265.2" y="457.2" width="1.3" height="1.3" fill="#fff200"/><rect x="257.9" y="467.4" width="1.3" height="1.3" fill="#ffffff"/><rect x="281.7" y="459.6" width="1.3" height="1.3" fill="#ffcc00"/><rect x="263.1" y="467.4" width="1.3" height="1.3" fill="#fff200"/><rect x="282.1" y="457.6" width="1.3" height="1.3" fill="#fff200"/><rect x="255.1" y="467.7" width="1.3" height="1.3" fill="#ffcc00"/><rect x="262.2" y="457.6" width="1.3" height="1.3" fill="#ffffff"/><rect x="264.0" y="456.4" width="1.3" height="1.3" fill="#ff9a00"/><rect x="244.3" y="462.7" width="1.3" height="1.3" fill="#aaff55"/><rect x="282.4" y="460.1" width="1.3" height="1.3" fill="#ffffff"/><rect x="244.0" y="453.5" width="1.3" height="1.3" fill="#ffffff"/><rect x="276.1" y="460.9" width="1.3" height="1.3" fill="#fff200"/><rect x="254.7" y="451.7" width="1.3" height="1.3" fill="#fff200"/><rect x="274.2" y="456.5" width="1.3" height="1.3" fill="#ffffff"/><rect x="256.8" y="459.5" width="1.3" height="1.3" fill="#880000"/><rect x="262.8" y="468.9" width="1.3" height="1.3" fill="#880000"/><rect x="263.8" y="453.8" width="1.3" height="1.3" fill="#ff9a00"/><rect x="252.9" y="457.4" width="1.3" height="1.3" fill="#fff200"/><rect x="241.3" y="465.6" width="1.3" height="1.3" fill="#fff200"/><rect x="281.4" y="467.2" width="1.3" height="1.3" fill="#fff200"/><rect x="281.4" y="462.1" width="1.3" height="1.3" fill="#ffcc00"/><rect x="249.2" y="467.7" width="1.3" height="1.3" fill="#880000"/><rect x="282.2" y="453.8" width="1.3" height="1.3" fill="#ffffff"/><rect x="268.3" y="462.8" width="1.3" height="1.3" fill="#ffffff"/><rect x="273.9" y="468.9" width="1.3" height="1.3" fill="#ffffff"/><rect x="270.3" y="455.9" width="1.3" height="1.3" fill="#ff9a00"/><rect x="244.4" y="450.1" width="1.3" height="1.3" fill="#ffffff"/><rect x="286.8" y="450.2" width="1.3" height="1.3" fill="#ffcc00"/><rect x="261.9" y="466.5" width="1.3" height="1.3" fill="#aaff55"/><rect x="279.8" y="461.6" width="1.3" height="1.3" fill="#aaff55"/><rect x="260.5" y="456.8" width="1.3" height="1.3" fill="#fff200"/><rect x="275.0" y="460.8" width="1.3" height="1.3" fill="#ff9a00"/><rect x="281.8" y="449.9" width="1.3" height="1.3" fill="#ffffff"/><rect x="261.4" y="469.5" width="1.3" height="1.3" fill="#fff200"/>
</g>
<!-- frame -->
<rect x="129.3" y="162" width="710.9" height="698.1" fill="none" stroke="#111" stroke-width="1.25"/>
<line x1="112" y1="177.4" x2="129.3" y2="177.4" stroke="#000" stroke-width="1.3"/>
<text x="99.7" y="186.0" font-size="23.4" text-anchor="end">45°N</text>
<line x1="112" y1="270.9" x2="129.3" y2="270.9" stroke="#000" stroke-width="1.3"/>
<text x="99.7" y="279.6" font-size="23.4" text-anchor="end">40°N</text>
<line x1="112" y1="364.5" x2="129.3" y2="364.5" stroke="#000" stroke-width="1.3"/>
<text x="99.7" y="373.1" font-size="23.4" text-anchor="end">35°N</text>
<line x1="112" y1="458.0" x2="129.3" y2="458.0" stroke="#000" stroke-width="1.3"/>
<text x="99.7" y="466.6" font-size="23.4" text-anchor="end">30°N</text>
<line x1="112" y1="551.6" x2="129.3" y2="551.6" stroke="#000" stroke-width="1.3"/>
<text x="99.7" y="560.2" font-size="23.4" text-anchor="end">25°N</text>
<line x1="112" y1="645.1" x2="129.3" y2="645.1" stroke="#000" stroke-width="1.3"/>
<text x="99.7" y="653.8" font-size="23.4" text-anchor="end">20°N</text>
<line x1="112" y1="738.7" x2="129.3" y2="738.7" stroke="#000" stroke-width="1.3"/>
<text x="99.7" y="747.3" font-size="23.4" text-anchor="end">15°N</text>
<line x1="112" y1="832.2" x2="129.3" y2="832.2" stroke="#000" stroke-width="1.3"/>
<text x="99.7" y="840.9" font-size="23.4" text-anchor="end">10°N</text>
<line x1="185.3" y1="860.1" x2="185.3" y2="877" stroke="#000" stroke-width="1.3"/>
<text x="184.9" y="909.9" font-size="23" text-anchor="middle">95°W</text>
<line x1="279.0" y1="860.1" x2="279.0" y2="877" stroke="#000" stroke-width="1.3"/>
<text x="278.6" y="909.9" font-size="23" text-anchor="middle">90°W</text>
<line x1="372.6" y1="860.1" x2="372.6" y2="877" stroke="#000" stroke-width="1.3"/>
<text x="372.2" y="909.9" font-size="23" text-anchor="middle">85°W</text>
<line x1="466.3" y1="860.1" x2="466.3" y2="877" stroke="#000" stroke-width="1.3"/>
<text x="465.9" y="909.9" font-size="23" text-anchor="middle">80°W</text>
<line x1="559.9" y1="860.1" x2="559.9" y2="877" stroke="#000" stroke-width="1.3"/>
<text x="559.5" y="909.9" font-size="23" text-anchor="middle">75°W</text>
<line x1="653.5" y1="860.1" x2="653.5" y2="877" stroke="#000" stroke-width="1.3"/>
<text x="653.1" y="909.9" font-size="23" text-anchor="middle">70°W</text>
<line x1="747.2" y1="860.1" x2="747.2" y2="877" stroke="#000" stroke-width="1.3"/>
<text x="746.8" y="909.9" font-size="23" text-anchor="middle">65°W</text>
<text x="163.5" y="133.5" font-size="25.6">2021031020</text>
<text x="656.5" y="128.9" font-size="25.5">Elevation (m)</text>
<text x="484.4" y="944.8" font-size="22.9" text-anchor="middle">Longitude</text>
<text transform="translate(41,511) rotate(-90)" font-size="22.9" text-anchor="middle">Latitude</text>
<rect x="878.5" y="169.00" width="42.2" height="31.11" fill="#880000" stroke="#000" stroke-width="0.8"/>
<rect x="878.5" y="200.10" width="42.2" height="31.11" fill="#b40000" stroke="#000" stroke-width="0.8"/>
<rect x="878.5" y="231.21" width="42.2" height="31.11" fill="#e00000" stroke="#000" stroke-width="0.8"/>
<rect x="878.5" y="262.31" width="42.2" height="31.11" fill="#ff1400" stroke="#000" stroke-width="0.8"/>
<rect x="878.5" y="293.42" width="42.2" height="31.11" fill="#ff4600" stroke="#000" stroke-width="0.8"/>
<rect x="878.5" y="324.52" width="42.2" height="31.11" fill="#ff6e00" stroke="#000" stroke-width="0.8"/>
<rect x="878.5" y="355.63" width="42.2" height="31.11" fill="#ff9a00" stroke="#000" stroke-width="0.8"/>
<rect x="878.5" y="386.74" width="42.2" height="31.11" fill="#ffcc00" stroke="#000" stroke-width="0.8"/>
<rect x="878.5" y="417.84" width="42.2" height="31.11" fill="#fff500" stroke="#000" stroke-width="0.8"/>
<rect x="878.5" y="448.94" width="42.2" height="31.11" fill="#d5ff2a" stroke="#000" stroke-width="0.8"/>
<rect x="878.5" y="480.05" width="42.2" height="31.11" fill="#aaff55" stroke="#000" stroke-width="0.8"/>
<rect x="878.5" y="511.16" width="42.2" height="31.11" fill="#80ff80" stroke="#000" stroke-width="0.8"/>
<rect x="878.5" y="542.26" width="42.2" height="31.11" fill="#55ffaa" stroke="#000" stroke-width="0.8"/>
<rect x="878.5" y="573.37" width="42.2" height="31.11" fill="#2affd5" stroke="#000" stroke-width="0.8"/>
<rect x="878.5" y="604.47" width="42.2" height="31.11" fill="#00f5ff" stroke="#000" stroke-width="0.8"/>
<rect x="878.5" y="635.58" width="42.2" height="31.11" fill="#00c8ff" stroke="#000" stroke-width="0.8"/>
<rect x="878.5" y="666.68" width="42.2" height="31.11" fill="#00a0ff" stroke="#000" stroke-width="0.8"/>
<rect x="878.5" y="697.78" width="42.2" height="31.11" fill="#0070ff" stroke="#000" stroke-width="0.8"/>
<rect x="878.5" y="728.89" width="42.2" height="31.11" fill="#0040ff" stroke="#000" stroke-width="0.8"/>
<rect x="878.5" y="760.00" width="42.2" height="31.11" fill="#0010ff" stroke="#000" stroke-width="0.8"/>
<rect x="878.5" y="791.10" width="42.2" height="31.11" fill="#0000dd" stroke="#000" stroke-width="0.8"/>
<rect x="878.5" y="822.21" width="42.2" height="31.11" fill="#0000a8" stroke="#000" stroke-width="0.8"/>
<text x="960.1" y="211.2" font-size="32" text-anchor="middle">2</text>
<text x="960.1" y="273.4" font-size="32" text-anchor="middle">1.6</text>
<text x="960.1" y="335.6" font-size="32" text-anchor="middle">1.2</text>
<text x="960.1" y="397.8" font-size="32" text-anchor="middle">0.8</text>
<text x="960.1" y="460.0" font-size="32" text-anchor="middle">0.4</text>
<text x="960.1" y="522.3" font-size="32" text-anchor="middle">0</text>
<text x="960.1" y="584.5" font-size="32" text-anchor="middle">-0.4</text>
<text x="960.1" y="646.7" font-size="32" text-anchor="middle">-0.8</text>
<text x="960.1" y="708.9" font-size="32" text-anchor="middle">-1.2</text>
<text x="960.1" y="771.1" font-size="32" text-anchor="middle">-1.6</text>
<text x="960.1" y="833.3" font-size="32" text-anchor="middle">-2</text>
</svg>
</body></html>
